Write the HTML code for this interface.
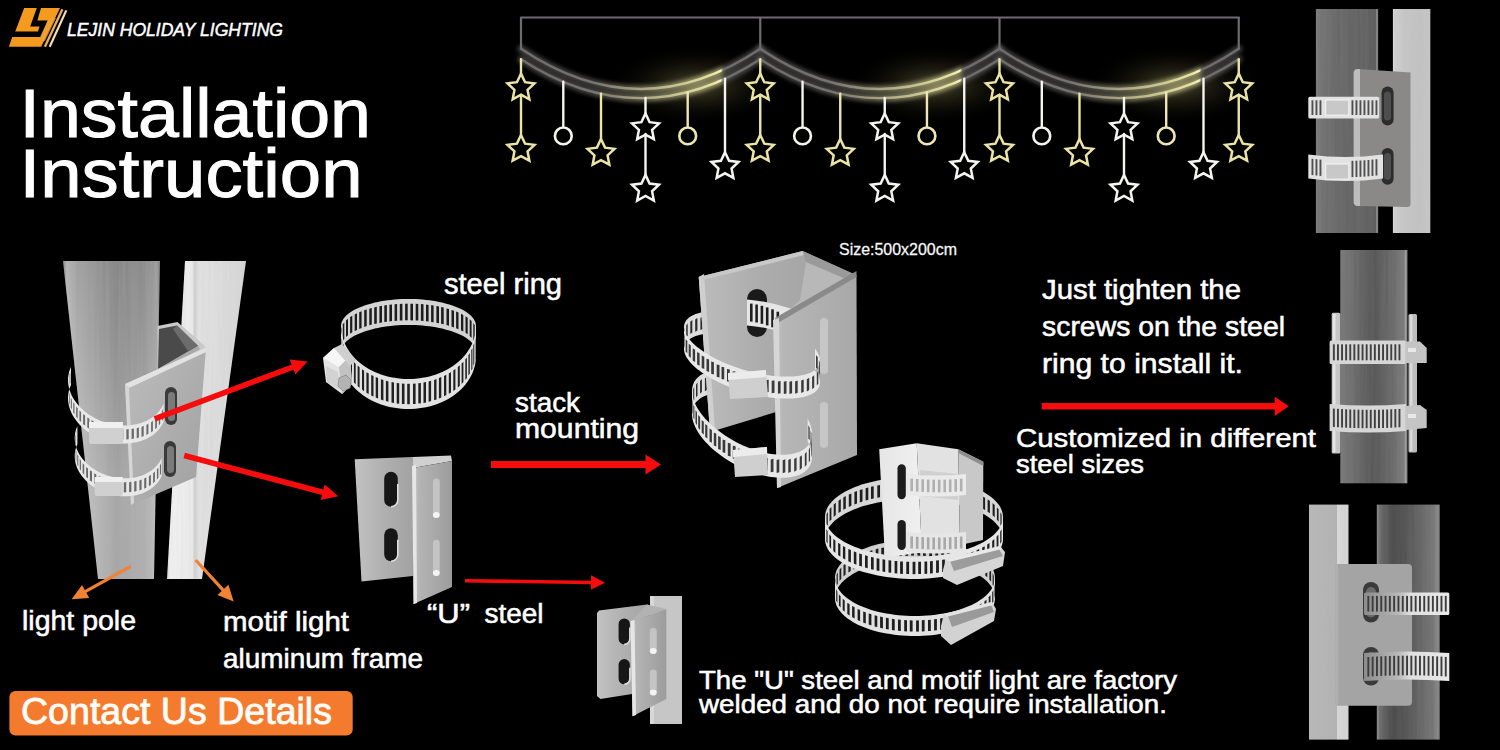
<!DOCTYPE html>
<html><head><meta charset="utf-8">
<style>
html,body{margin:0;padding:0;background:#000;width:1500px;height:750px;overflow:hidden}
svg{display:block}
text{font-family:"Liberation Sans",sans-serif;fill:#fff}
</style></head><body>
<svg width="1500" height="750" viewBox="0 0 1500 750">
<defs>
  <filter id="glow" x="-20%" y="-50%" width="140%" height="200%"><feGaussianBlur stdDeviation="2.5" result="b"/><feMerge><feMergeNode in="b"/><feMergeNode in="b"/><feMergeNode in="SourceGraphic"/></feMerge></filter>
</defs>

<rect width="1500" height="750" fill="#000"/>
<defs><polygon id="star" points="0.00,-14.20 4.06,-5.58 13.51,-4.39 6.56,2.13 8.35,11.49 0.00,6.90 -8.35,11.49 -6.56,2.13 -13.51,-4.39 -4.06,-5.58" fill="none" stroke-width="2.5" stroke-linejoin="miter"/>
<linearGradient id="gl0" gradientUnits="userSpaceOnUse" x1="521.0" y1="0" x2="760.25" y2="0"><stop offset="0" stop-color="#6e6c6c"/><stop offset="0.3" stop-color="#767470"/><stop offset="0.55" stop-color="#b4b088"/><stop offset="0.8" stop-color="#e8e4a4"/><stop offset="0.835" stop-color="#f8f4b8"/><stop offset="0.845" stop-color="#6e6c6c"/><stop offset="1" stop-color="#6e6c6c"/></linearGradient>
<radialGradient id="haze0" gradientUnits="userSpaceOnUse" cx="696.0" cy="85" r="90" gradientTransform="translate(696.0 85) scale(1 0.45) translate(-696.0 -85)"><stop offset="0" stop-color="#5a5634" stop-opacity="0.85"/><stop offset="1" stop-color="#000" stop-opacity="0"/></radialGradient>
<linearGradient id="gl1" gradientUnits="userSpaceOnUse" x1="760.25" y1="0" x2="999.5" y2="0"><stop offset="0" stop-color="#6e6c6c"/><stop offset="0.3" stop-color="#767470"/><stop offset="0.55" stop-color="#b4b088"/><stop offset="0.8" stop-color="#e8e4a4"/><stop offset="0.835" stop-color="#f8f4b8"/><stop offset="0.845" stop-color="#6e6c6c"/><stop offset="1" stop-color="#6e6c6c"/></linearGradient>
<radialGradient id="haze1" gradientUnits="userSpaceOnUse" cx="935.25" cy="85" r="90" gradientTransform="translate(935.25 85) scale(1 0.45) translate(-935.25 -85)"><stop offset="0" stop-color="#5a5634" stop-opacity="0.85"/><stop offset="1" stop-color="#000" stop-opacity="0"/></radialGradient>
<linearGradient id="gl2" gradientUnits="userSpaceOnUse" x1="999.5" y1="0" x2="1238.75" y2="0"><stop offset="0" stop-color="#6e6c6c"/><stop offset="0.3" stop-color="#767470"/><stop offset="0.55" stop-color="#b4b088"/><stop offset="0.8" stop-color="#e8e4a4"/><stop offset="0.835" stop-color="#f8f4b8"/><stop offset="0.845" stop-color="#6e6c6c"/><stop offset="1" stop-color="#6e6c6c"/></linearGradient>
<radialGradient id="haze2" gradientUnits="userSpaceOnUse" cx="1174.5" cy="85" r="90" gradientTransform="translate(1174.5 85) scale(1 0.45) translate(-1174.5 -85)"><stop offset="0" stop-color="#5a5634" stop-opacity="0.85"/><stop offset="1" stop-color="#000" stop-opacity="0"/></radialGradient>
<filter id="soft" x="-10%" y="-60%" width="120%" height="220%"><feGaussianBlur stdDeviation="2.2"/></filter></defs>
<g id="motif" fill="none" stroke-linecap="round">
<ellipse cx="686.0" cy="82" rx="95" ry="40" fill="url(#haze0)" stroke="none"/>
<ellipse cx="925.25" cy="82" rx="95" ry="40" fill="url(#haze1)" stroke="none"/>
<ellipse cx="1164.5" cy="82" rx="95" ry="40" fill="url(#haze2)" stroke="none"/>
<path d="M521,17.5 H1239 M521,17.5 V49 M760.25,17.5 V49 M999.5,17.5 V49 M1238.75,17.5 V49" stroke="#6e6a70" stroke-width="2.2"/>
<path d="M521.0,48.8 Q640.625,129.2 760.25,48.8 M521.0,59.2 Q640.625,137.0 760.25,59.2" stroke="url(#gl0)" stroke-width="7" opacity="0.6" filter="url(#soft)"/>
<path d="M521.0,48.8 Q640.625,129.2 760.25,48.8 M521.0,59.2 Q640.625,137.0 760.25,59.2" stroke="url(#gl0)" stroke-width="2.4"/>
<path d="M760.25,48.8 Q879.875,129.2 999.5,48.8 M760.25,59.2 Q879.875,137.0 999.5,59.2" stroke="url(#gl1)" stroke-width="7" opacity="0.6" filter="url(#soft)"/>
<path d="M760.25,48.8 Q879.875,129.2 999.5,48.8 M760.25,59.2 Q879.875,137.0 999.5,59.2" stroke="url(#gl1)" stroke-width="2.4"/>
<path d="M999.5,48.8 Q1119.125,129.2 1238.75,48.8 M999.5,59.2 Q1119.125,137.0 1238.75,59.2" stroke="url(#gl2)" stroke-width="7" opacity="0.6" filter="url(#soft)"/>
<path d="M999.5,48.8 Q1119.125,129.2 1238.75,48.8 M999.5,59.2 Q1119.125,137.0 1238.75,59.2" stroke="url(#gl2)" stroke-width="2.4"/>
<path d="M521.0,59.2 V73.5 M521.0,95 V134.5" stroke="#ebe4a6" stroke-width="2.4"/>
<use href="#star" x="521.0" y="87.8" stroke="#ebe4a6"/>
<use href="#star" x="521.0" y="149.2" stroke="#ebe4a6"/>
<path d="M760.25,59.2 V73.5 M760.25,95 V134.5" stroke="#ebe4a6" stroke-width="2.4"/>
<use href="#star" x="760.25" y="87.8" stroke="#ebe4a6"/>
<use href="#star" x="760.25" y="149.2" stroke="#ebe4a6"/>
<path d="M999.5,59.2 V73.5 M999.5,95 V134.5" stroke="#ebe4a6" stroke-width="2.4"/>
<use href="#star" x="999.5" y="87.8" stroke="#ebe4a6"/>
<use href="#star" x="999.5" y="149.2" stroke="#ebe4a6"/>
<path d="M1238.75,59.2 V73.5 M1238.75,95 V134.5" stroke="#ebe4a6" stroke-width="2.4"/>
<use href="#star" x="1238.75" y="87.8" stroke="#ebe4a6"/>
<use href="#star" x="1238.75" y="149.2" stroke="#ebe4a6"/>
<path d="M563.3,81.8 V126.4" stroke="#f4f4f0" stroke-width="2.4"/><circle cx="563.3" cy="135.9" r="8.4" stroke="#f4f4f0" stroke-width="2.6"/>
<path d="M601.0,93.8 V138.5" stroke="#ebe4a6" stroke-width="2.4"/><use href="#star" x="601.0" y="153.2" stroke="#ebe4a6"/>
<path d="M645.5,98.0 V113 M645.5,134 V174.5" stroke="#f4f4f0" stroke-width="2.4"/><use href="#star" x="645.5" y="127.7" stroke="#f4f4f0"/><use href="#star" x="645.5" y="189.1" stroke="#f4f4f0"/>
<path d="M687.7,92.1 V126.4" stroke="#eee6b4" stroke-width="2.4"/><circle cx="687.7" cy="135.9" r="8.4" stroke="#eee6b4" stroke-width="2.6"/>
<path d="M725.0,78.7 V152" stroke="#f4f4f0" stroke-width="2.4"/><use href="#star" x="725.0" y="166.4" stroke="#f4f4f0"/>
<path d="M802.55,81.8 V126.4" stroke="#f4f4f0" stroke-width="2.4"/><circle cx="802.55" cy="135.9" r="8.4" stroke="#f4f4f0" stroke-width="2.6"/>
<path d="M840.25,93.8 V138.5" stroke="#ebe4a6" stroke-width="2.4"/><use href="#star" x="840.25" y="153.2" stroke="#ebe4a6"/>
<path d="M884.75,98.0 V113 M884.75,134 V174.5" stroke="#f4f4f0" stroke-width="2.4"/><use href="#star" x="884.75" y="127.7" stroke="#f4f4f0"/><use href="#star" x="884.75" y="189.1" stroke="#f4f4f0"/>
<path d="M926.95,92.1 V126.4" stroke="#eee6b4" stroke-width="2.4"/><circle cx="926.95" cy="135.9" r="8.4" stroke="#eee6b4" stroke-width="2.6"/>
<path d="M964.25,78.7 V152" stroke="#f4f4f0" stroke-width="2.4"/><use href="#star" x="964.25" y="166.4" stroke="#f4f4f0"/>
<path d="M1041.8,81.8 V126.4" stroke="#f4f4f0" stroke-width="2.4"/><circle cx="1041.8" cy="135.9" r="8.4" stroke="#f4f4f0" stroke-width="2.6"/>
<path d="M1079.5,93.8 V138.5" stroke="#ebe4a6" stroke-width="2.4"/><use href="#star" x="1079.5" y="153.2" stroke="#ebe4a6"/>
<path d="M1124.0,98.0 V113 M1124.0,134 V174.5" stroke="#f4f4f0" stroke-width="2.4"/><use href="#star" x="1124.0" y="127.7" stroke="#f4f4f0"/><use href="#star" x="1124.0" y="189.1" stroke="#f4f4f0"/>
<path d="M1166.2,92.1 V126.4" stroke="#eee6b4" stroke-width="2.4"/><circle cx="1166.2" cy="135.9" r="8.4" stroke="#eee6b4" stroke-width="2.6"/>
<path d="M1203.5,78.7 V152" stroke="#f4f4f0" stroke-width="2.4"/><use href="#star" x="1203.5" y="166.4" stroke="#f4f4f0"/>
</g>
<defs>
  <linearGradient id="lpPole" x1="0" y1="0" x2="1" y2="0">
    <stop offset="0" stop-color="#a8a8a8"/><stop offset="0.04" stop-color="#e0e0e0"/><stop offset="0.15" stop-color="#c8c8c8"/>
    <stop offset="0.55" stop-color="#a6a6a6"/><stop offset="0.85" stop-color="#b0b0b0"/><stop offset="0.97" stop-color="#c0c0c0"/><stop offset="1" stop-color="#9a9a9a"/>
  </linearGradient>
  <linearGradient id="lpFrame" x1="0" y1="0" x2="1" y2="0">
    <stop offset="0" stop-color="#d8d8d8"/><stop offset="0.05" stop-color="#f2f2f2"/><stop offset="0.32" stop-color="#ececec"/>
    <stop offset="0.35" stop-color="#d0d0d0"/><stop offset="0.4" stop-color="#e2e2e2"/><stop offset="1" stop-color="#d6d6d6"/>
  </linearGradient>
  <linearGradient id="lpVshade" x1="0" y1="0" x2="0" y2="1">
    <stop offset="0" stop-color="#000" stop-opacity="0.2"/><stop offset="0.45" stop-color="#000" stop-opacity="0.08"/><stop offset="0.75" stop-color="#000" stop-opacity="0"/>
  </linearGradient>
  <linearGradient id="lpPlate" x1="0" y1="0" x2="1" y2="1">
    <stop offset="0" stop-color="#bdbdbd"/><stop offset="1" stop-color="#a0a0a0"/>
  </linearGradient>
  <filter id="brush" x="0" y="0" width="100%" height="100%">
    <feTurbulence type="fractalNoise" baseFrequency="0.35 0.008" numOctaves="2" seed="3" result="n"/>
    <feColorMatrix in="n" type="matrix" values="0 0 0 0 0.5  0 0 0 0 0.5  0 0 0 0 0.5  1.2 0 0 0 -0.35" result="g"/>
    <feComposite in="g" in2="SourceGraphic" operator="in"/>
  </filter>
</defs>
<g id="leftimg">
<polygon points="185,261 246,261 202,579 167,579" fill="url(#lpFrame)"/>
<polygon points="63,261 160,261 154,579 98,579" fill="url(#lpPole)"/>
<polygon points="63,261 160,261 154,579 98,579" fill="url(#lpVshade)"/>
<polygon points="185,261 246,261 202,579 167,579" fill="#000" filter="url(#brush)" opacity="0.25"/>
<polygon points="63,261 160,261 154,579 98,579" fill="#000" filter="url(#brush)" opacity="0.3"/>
<polygon points="157.5,326 177.4,322 205,346 204,352 157.5,376" fill="#c9c9c9"/>
<polygon points="159,329 177,325.5 198,346 158,369" fill="#4a4a4a"/>
<polygon points="177,325.5 198,346 188,351 173,329" fill="#6c6c6c"/>
<polygon points="158,369 198,346 200,349 156,373" fill="#a8a8a8"/>
<polygon points="125,384 206,347.5 196,477 131,505" fill="url(#lpPlate)"/>
<polygon points="125,384 206,347.5 206,352 129,388" fill="#e2e2e2"/>
<polygon points="125,384 129,388 134,503 131,505" fill="#d6d6d6"/>
<rect x="165" y="387" width="12" height="38" rx="6" fill="#3a3a3a"/><rect x="168" y="392" width="7" height="29" rx="3.5" fill="#7a7a7a"/>
<rect x="164" y="441" width="12" height="36" rx="6" fill="#3a3a3a"/><rect x="167" y="446" width="7" height="27" rx="3.5" fill="#7a7a7a"/>
<polygon points="163.6,403.8 162.7,405.6 161.7,407.4 160.6,409.1 159.4,410.8 158.0,412.4 156.5,413.9 155.0,415.3 153.3,416.7 151.5,417.9 149.6,419.1 147.6,420.2 145.5,421.2 143.4,422.1 141.2,422.9 138.9,423.6 136.5,424.2 134.1,424.6 131.7,425.0 129.2,425.3 126.6,425.4 124.1,425.5 121.5,425.4 118.9,425.2 116.3,424.9 113.7,424.5 111.1,424.0 108.6,423.4 106.0,422.7 103.5,421.8 101.0,420.9 98.6,419.9 96.2,418.8 93.9,417.6 91.7,416.3 89.5,414.9 87.4,413.4 85.4,411.9 83.4,410.3 81.6,408.6 79.8,406.9 78.2,405.1 76.7,403.2 75.3,401.3 74.0,399.4 72.8,397.4 71.7,395.4 70.8,393.3 70.0,391.3 69.3,389.2 68.8,387.1 68.4,385.0 68.1,382.9 68.0,380.8 68.0,378.8 68.2,376.7 68.5,374.7 68.9,372.7 69.4,370.8 70.1,368.9 71.0,367.0 71.0,385.0 70.1,386.9 69.4,388.8 68.9,390.7 68.5,392.7 68.2,394.7 68.0,396.8 68.0,398.8 68.1,400.9 68.4,403.0 68.8,405.1 69.3,407.2 70.0,409.3 70.8,411.3 71.7,413.4 72.8,415.4 74.0,417.4 75.3,419.3 76.7,421.2 78.2,423.1 79.8,424.9 81.6,426.6 83.4,428.3 85.4,429.9 87.4,431.4 89.5,432.9 91.7,434.3 93.9,435.6 96.2,436.8 98.6,437.9 101.0,438.9 103.5,439.8 106.0,440.7 108.6,441.4 111.1,442.0 113.7,442.5 116.3,442.9 118.9,443.2 121.5,443.4 124.1,443.5 126.6,443.4 129.2,443.3 131.7,443.0 134.1,442.6 136.5,442.2 138.9,441.6 141.2,440.9 143.4,440.1 145.5,439.2 147.6,438.2 149.6,437.1 151.5,435.9 153.3,434.7 155.0,433.3 156.5,431.9 158.0,430.4 159.4,428.8 160.6,427.1 161.7,425.4 162.7,423.6 163.6,421.8" fill="#e8e8e8"/>
<polygon points="161.9,411.3 162.9,409.1 162.9,419.2 161.9,421.3" fill="#6a6a6a"/>
<polygon points="158.8,415.5 160.2,413.6 160.2,423.7 158.8,425.6" fill="#6a6a6a"/>
<polygon points="155.2,419.1 156.9,417.4 156.9,427.5 155.2,429.2" fill="#6a6a6a"/>
<polygon points="151.1,422.3 152.9,420.8 152.9,430.9 151.1,432.4" fill="#6a6a6a"/>
<polygon points="146.4,424.9 148.4,423.6 148.4,433.7 146.4,435.0" fill="#6a6a6a"/>
<polygon points="141.5,426.9 143.7,425.8 143.7,435.9 141.5,437.0" fill="#6a6a6a"/>
<polygon points="136.7,428.2 138.9,427.4 138.9,437.5 136.7,438.3" fill="#6a6a6a"/>
<polygon points="131.6,429.1 133.9,428.5 133.9,438.6 131.6,439.2" fill="#6a6a6a"/>
<polygon points="126.3,429.5 128.7,429.1 128.7,439.2 126.3,439.6" fill="#6a6a6a"/>
<polygon points="120.9,429.5 123.3,429.3 123.3,439.4 120.9,439.6" fill="#6a6a6a"/>
<polygon points="115.9,429.0 118.3,429.0 118.3,439.0 115.9,439.1" fill="#6a6a6a"/>
<polygon points="110.8,428.1 113.2,428.2 113.2,438.3 110.8,438.1" fill="#6a6a6a"/>
<polygon points="105.9,426.7 108.2,427.1 108.2,437.2 105.9,436.8" fill="#6a6a6a"/>
<polygon points="100.6,424.9 102.9,425.5 102.9,435.6 100.6,434.9" fill="#6a6a6a"/>
<polygon points="95.9,422.7 98.2,423.5 98.2,433.6 95.9,432.8" fill="#6a6a6a"/>
<polygon points="91.5,420.3 93.7,421.3 93.7,431.3 91.5,430.3" fill="#6a6a6a"/>
<polygon points="87.3,417.5 89.4,418.7 89.4,428.7 87.3,427.5" fill="#6a6a6a"/>
<polygon points="83.1,414.1 85.1,415.5 85.1,425.6 83.1,424.2" fill="#6a6a6a"/>
<polygon points="79.4,410.5 81.1,412.1 81.1,422.1 79.4,420.5" fill="#6a6a6a"/>
<polygon points="76.1,406.5 77.7,408.3 77.7,418.4 76.1,416.6" fill="#6a6a6a"/>
<polygon points="73.2,402.1 74.5,404.1 74.5,414.2 73.2,412.2" fill="#6a6a6a"/>
<polygon points="70.8,397.5 71.9,399.7 71.9,409.8 70.8,407.6" fill="#6a6a6a"/>
<polygon points="69.1,392.5 69.8,394.8 69.8,404.9 69.1,402.6" fill="#6a6a6a"/>
<polygon points="69.6,374.3 70.4,372.1 70.4,382.2 69.6,384.4" fill="#6a6a6a"/>
<rect x="89" y="422" width="34" height="22" rx="2" fill="#d0d0d0"/><rect x="89" y="422" width="34" height="6" fill="#f0f0f0"/>
<polygon points="161.7,457.9 160.9,459.6 160.0,461.2 159.0,462.8 157.9,464.3 156.6,465.8 155.3,467.2 153.8,468.6 152.3,469.8 150.7,471.0 148.9,472.1 147.1,473.1 145.3,474.1 143.3,474.9 141.3,475.7 139.2,476.3 137.1,476.9 134.9,477.4 132.6,477.8 130.4,478.0 128.1,478.2 125.7,478.3 123.4,478.3 121.0,478.2 118.7,477.9 116.3,477.6 114.0,477.2 111.6,476.7 109.3,476.1 107.0,475.4 104.8,474.6 102.6,473.7 100.4,472.7 98.3,471.7 96.2,470.5 94.3,469.3 92.3,468.0 90.5,466.7 88.7,465.2 87.1,463.7 85.5,462.2 84.0,460.6 82.6,458.9 81.3,457.2 80.1,455.5 79.0,453.7 78.1,451.9 77.2,450.0 76.5,448.2 75.9,446.3 75.4,444.4 75.1,442.5 74.8,440.6 74.7,438.8 74.7,436.9 74.9,435.0 75.1,433.2 75.5,431.4 76.0,429.6 76.6,427.9 77.4,426.2 77.4,444.2 76.6,445.9 76.0,447.6 75.5,449.4 75.1,451.2 74.9,453.0 74.7,454.9 74.7,456.8 74.8,458.6 75.1,460.5 75.4,462.4 75.9,464.3 76.5,466.2 77.2,468.0 78.1,469.9 79.0,471.7 80.1,473.5 81.3,475.2 82.6,476.9 84.0,478.6 85.5,480.2 87.1,481.7 88.7,483.2 90.5,484.7 92.3,486.0 94.3,487.3 96.2,488.5 98.3,489.7 100.4,490.7 102.6,491.7 104.8,492.6 107.0,493.4 109.3,494.1 111.6,494.7 114.0,495.2 116.3,495.6 118.7,495.9 121.0,496.2 123.4,496.3 125.7,496.3 128.1,496.2 130.4,496.0 132.6,495.8 134.9,495.4 137.1,494.9 139.2,494.3 141.3,493.7 143.3,492.9 145.3,492.1 147.1,491.1 148.9,490.1 150.7,489.0 152.3,487.8 153.8,486.6 155.3,485.2 156.6,483.8 157.9,482.3 159.0,480.8 160.0,479.2 160.9,477.6 161.7,475.9" fill="#e8e8e8"/>
<polygon points="159.9,465.4 161.0,463.3 161.0,473.4 159.9,475.5" fill="#6a6a6a"/>
<polygon points="156.9,469.6 158.4,467.6 158.4,477.7 156.9,479.6" fill="#6a6a6a"/>
<polygon points="153.1,473.2 154.9,471.5 154.9,481.6 153.1,483.3" fill="#6a6a6a"/>
<polygon points="148.9,476.2 150.9,474.7 150.9,484.8 148.9,486.3" fill="#6a6a6a"/>
<polygon points="144.2,478.6 146.3,477.4 146.3,487.5 144.2,488.7" fill="#6a6a6a"/>
<polygon points="139.4,480.4 141.6,479.4 141.6,489.5 139.4,490.5" fill="#6a6a6a"/>
<polygon points="134.2,481.6 136.5,480.9 136.5,491.0 134.2,491.7" fill="#6a6a6a"/>
<polygon points="129.1,482.2 131.4,481.8 131.4,491.8 129.1,492.3" fill="#6a6a6a"/>
<polygon points="123.8,482.4 126.2,482.1 126.2,492.2 123.8,492.5" fill="#6a6a6a"/>
<polygon points="118.5,482.0 120.9,482.0 120.9,492.1 118.5,492.1" fill="#6a6a6a"/>
<polygon points="113.6,481.2 116.0,481.4 116.0,491.5 113.6,491.3" fill="#6a6a6a"/>
<polygon points="108.4,479.9 110.7,480.3 110.7,490.4 108.4,490.0" fill="#6a6a6a"/>
<polygon points="103.6,478.2 105.9,478.9 105.9,488.9 103.6,488.3" fill="#6a6a6a"/>
<polygon points="98.8,476.0 101.0,476.9 101.0,486.9 98.8,486.1" fill="#6a6a6a"/>
<polygon points="94.2,473.3 96.3,474.4 96.3,484.5 94.2,483.4" fill="#6a6a6a"/>
<polygon points="89.9,470.3 92.0,471.6 92.0,481.7 89.9,480.4" fill="#6a6a6a"/>
<polygon points="86.1,466.9 88.0,468.5 88.0,478.5 86.1,477.0" fill="#6a6a6a"/>
<polygon points="82.6,463.0 84.2,464.8 84.2,474.8 82.6,473.1" fill="#6a6a6a"/>
<polygon points="79.7,458.8 81.0,460.8 81.0,470.8 79.7,468.9" fill="#6a6a6a"/>
<polygon points="77.2,454.1 78.3,456.3 78.3,466.4 77.2,464.2" fill="#6a6a6a"/>
<polygon points="75.6,449.3 76.3,451.6 76.3,461.7 75.6,459.4" fill="#6a6a6a"/>
<polygon points="75.3,436.2 75.9,433.9 75.9,444.0 75.3,446.3" fill="#6a6a6a"/>
<polygon points="76.9,431.2 77.9,429.0 77.9,439.1 76.9,441.3" fill="#6a6a6a"/>
<rect x="94.7" y="477" width="28" height="19" rx="2" fill="#d0d0d0"/><rect x="94.7" y="477" width="28" height="5" fill="#f0f0f0"/>
</g>
<g id="ring">
<polygon points="341.0,326.0 341.1,324.6 341.4,323.2 341.8,321.8 342.5,320.4 343.3,319.0 344.3,317.7 345.5,316.3 346.8,315.0 348.4,313.7 350.0,312.5 351.9,311.3 353.9,310.1 356.0,309.0 358.3,307.9 360.8,306.9 363.3,305.9 366.0,305.0 368.8,304.2 371.7,303.4 374.8,302.6 377.9,301.9 381.0,301.3 384.3,300.8 387.6,300.3 391.0,299.9 394.5,299.6 397.9,299.3 401.4,299.1 405.0,299.0 408.5,299.0 412.0,299.0 415.6,299.1 419.1,299.3 422.5,299.6 426.0,299.9 429.4,300.3 432.7,300.8 436.0,301.3 439.1,301.9 442.2,302.6 445.3,303.4 448.2,304.2 451.0,305.0 453.7,305.9 456.2,306.9 458.7,307.9 461.0,309.0 463.1,310.1 465.1,311.3 467.0,312.5 468.6,313.7 470.2,315.0 471.5,316.3 472.7,317.7 473.7,319.0 474.5,320.4 475.2,321.8 475.6,323.2 475.9,324.6 476.0,326.0 476.0,352.0 475.9,350.6 475.6,349.2 475.2,347.8 474.5,346.4 473.7,345.0 472.7,343.7 471.5,342.3 470.2,341.0 468.6,339.7 467.0,338.5 465.1,337.3 463.1,336.1 461.0,335.0 458.7,333.9 456.2,332.9 453.7,331.9 451.0,331.0 448.2,330.2 445.3,329.4 442.2,328.6 439.1,327.9 436.0,327.3 432.7,326.8 429.4,326.3 426.0,325.9 422.5,325.6 419.1,325.3 415.6,325.1 412.0,325.0 408.5,325.0 405.0,325.0 401.4,325.1 397.9,325.3 394.5,325.6 391.0,325.9 387.6,326.3 384.3,326.8 381.0,327.3 377.9,327.9 374.8,328.6 371.7,329.4 368.8,330.2 366.0,331.0 363.3,331.9 360.8,332.9 358.3,333.9 356.0,335.0 353.9,336.1 351.9,337.3 350.0,338.5 348.4,339.7 346.8,341.0 345.5,342.3 344.3,343.7 343.3,345.0 342.5,346.4 341.8,347.8 341.4,349.2 341.1,350.6 341.0,352.0" fill="#d4d4d4"/>
<polygon points="341.0,329.2 341.7,326.7 341.7,343.3 341.0,345.8" fill="#1c1c1c"/>
<polygon points="342.8,324.4 344.3,322.3 344.3,338.9 342.8,341.1" fill="#1c1c1c"/>
<polygon points="346.0,320.4 348.0,318.7 348.0,335.3 346.0,337.1" fill="#1c1c1c"/>
<polygon points="350.1,317.1 352.3,315.7 352.3,332.3 350.1,333.7" fill="#1c1c1c"/>
<polygon points="354.7,314.4 357.0,313.2 357.0,329.9 354.7,331.0" fill="#1c1c1c"/>
<polygon points="359.2,312.2 361.6,311.2 361.6,327.9 359.2,328.9" fill="#1c1c1c"/>
<polygon points="364.2,310.3 366.7,309.5 366.7,326.1 364.2,326.9" fill="#1c1c1c"/>
<polygon points="369.3,308.7 371.8,308.0 371.8,324.6 369.3,325.3" fill="#1c1c1c"/>
<polygon points="374.2,307.4 376.8,306.8 376.8,323.5 374.2,324.0" fill="#1c1c1c"/>
<polygon points="379.4,306.3 382.0,305.8 382.0,322.5 379.4,322.9" fill="#1c1c1c"/>
<polygon points="384.3,305.5 386.9,305.1 386.9,321.7 384.3,322.1" fill="#1c1c1c"/>
<polygon points="389.4,304.8 392.0,304.5 392.0,321.1 389.4,321.4" fill="#1c1c1c"/>
<polygon points="394.6,304.3 397.1,304.1 397.1,320.7 394.6,320.9" fill="#1c1c1c"/>
<polygon points="399.8,303.9 402.4,303.8 402.4,320.4 399.8,320.5" fill="#1c1c1c"/>
<polygon points="405.1,303.7 407.7,303.7 407.7,320.3 405.1,320.3" fill="#1c1c1c"/>
<polygon points="410.4,303.7 413.0,303.7 413.0,320.4 410.4,320.3" fill="#1c1c1c"/>
<polygon points="415.7,303.8 418.3,304.0 418.3,320.6 415.7,320.5" fill="#1c1c1c"/>
<polygon points="420.9,304.1 423.5,304.3 423.5,321.0 420.9,320.8" fill="#1c1c1c"/>
<polygon points="426.0,304.6 428.6,304.9 428.6,321.5 426.0,321.2" fill="#1c1c1c"/>
<polygon points="431.1,305.2 433.6,305.6 433.6,322.3 431.1,321.9" fill="#1c1c1c"/>
<polygon points="436.4,306.1 439.0,306.6 439.0,323.2 436.4,322.7" fill="#1c1c1c"/>
<polygon points="441.1,307.0 443.7,307.6 443.7,324.3 441.1,323.7" fill="#1c1c1c"/>
<polygon points="446.5,308.4 449.0,309.1 449.0,325.7 446.5,325.0" fill="#1c1c1c"/>
<polygon points="451.5,309.9 454.0,310.7 454.0,327.4 451.5,326.5" fill="#1c1c1c"/>
<polygon points="456.1,311.5 458.5,312.5 458.5,329.2 456.1,328.2" fill="#1c1c1c"/>
<polygon points="461.0,313.7 463.3,314.9 463.3,331.5 461.0,330.3" fill="#1c1c1c"/>
<polygon points="465.5,316.2 467.7,317.7 467.7,334.3 465.5,332.8" fill="#1c1c1c"/>
<polygon points="469.7,319.3 471.6,321.0 471.6,337.7 469.7,335.9" fill="#1c1c1c"/>
<polygon points="473.3,323.1 474.7,325.3 474.7,341.9 473.3,339.7" fill="#1c1c1c"/>
<polygon points="476.0,326.0 475.9,328.8 475.6,331.5 475.2,334.3 474.5,337.0 473.7,339.7 472.7,342.4 471.5,345.0 470.2,347.6 468.6,350.1 467.0,352.5 465.1,354.9 463.1,357.2 461.0,359.4 458.7,361.5 456.2,363.5 453.7,365.4 451.0,367.2 448.2,368.9 445.3,370.4 442.2,371.9 439.1,373.2 436.0,374.4 432.7,375.5 429.4,376.4 426.0,377.2 422.5,377.8 419.1,378.3 415.6,378.7 412.0,378.9 408.5,379.0 405.0,378.9 401.4,378.7 397.9,378.3 394.5,377.8 391.0,377.2 387.6,376.4 384.3,375.5 381.0,374.4 377.9,373.2 374.8,371.9 371.7,370.4 368.8,368.9 366.0,367.2 363.3,365.4 360.8,363.5 358.3,361.5 356.0,359.4 353.9,357.2 351.9,354.9 350.0,352.5 348.4,350.1 346.8,347.6 345.5,345.0 344.3,342.4 343.3,339.7 342.5,337.0 341.8,334.3 341.4,331.5 341.1,328.8 341.0,326.0 341.0,356.0 341.1,358.8 341.4,361.5 341.8,364.3 342.5,367.0 343.3,369.7 344.3,372.4 345.5,375.0 346.8,377.6 348.4,380.1 350.0,382.5 351.9,384.9 353.9,387.2 356.0,389.4 358.3,391.5 360.8,393.5 363.3,395.4 366.0,397.2 368.8,398.9 371.7,400.4 374.8,401.9 377.9,403.2 381.0,404.4 384.3,405.5 387.6,406.4 391.0,407.2 394.5,407.8 397.9,408.3 401.4,408.7 405.0,408.9 408.5,409.0 412.0,408.9 415.6,408.7 419.1,408.3 422.5,407.8 426.0,407.2 429.4,406.4 432.7,405.5 436.0,404.4 439.1,403.2 442.2,401.9 445.3,400.4 448.2,398.9 451.0,397.2 453.7,395.4 456.2,393.5 458.7,391.5 461.0,389.4 463.1,387.2 465.1,384.9 467.0,382.5 468.6,380.1 470.2,377.6 471.5,375.0 472.7,372.4 473.7,369.7 474.5,367.0 475.2,364.3 475.6,361.5 475.9,358.8 476.0,356.0" fill="#e2e2e2"/>
<polygon points="474.9,340.4 475.4,337.8 475.4,358.2 474.9,360.8" fill="#202020"/>
<polygon points="473.3,345.6 474.2,343.2 474.2,363.6 473.3,366.0" fill="#202020"/>
<polygon points="471.3,350.3 472.4,348.0 472.4,368.4 471.3,370.7" fill="#202020"/>
<polygon points="468.4,355.2 469.8,353.0 469.8,373.4 468.4,375.6" fill="#202020"/>
<polygon points="465.3,359.5 466.9,357.5 466.9,377.9 465.3,379.9" fill="#202020"/>
<polygon points="461.6,363.6 463.4,361.7 463.4,382.1 461.6,384.0" fill="#202020"/>
<polygon points="457.8,367.0 459.8,365.3 459.8,385.7 457.8,387.4" fill="#202020"/>
<polygon points="453.3,370.5 455.4,369.0 455.4,389.4 453.3,390.9" fill="#202020"/>
<polygon points="448.8,373.4 451.0,372.0 451.0,392.4 448.8,393.8" fill="#202020"/>
<polygon points="444.0,375.9 446.3,374.7 446.3,395.1 444.0,396.3" fill="#202020"/>
<polygon points="438.9,378.1 441.3,377.1 441.3,397.5 438.9,398.5" fill="#202020"/>
<polygon points="434.1,379.9 436.5,379.0 436.5,399.4 434.1,400.3" fill="#202020"/>
<polygon points="428.6,381.4 431.1,380.7 431.1,401.1 428.6,401.8" fill="#202020"/>
<polygon points="423.5,382.5 426.0,382.0 426.0,402.4 423.5,402.9" fill="#202020"/>
<polygon points="418.3,383.2 420.9,382.9 420.9,403.3 418.3,403.6" fill="#202020"/>
<polygon points="413.0,383.7 415.6,383.5 415.6,403.9 413.0,404.1" fill="#202020"/>
<polygon points="407.2,383.8 409.8,383.8 409.8,404.2 407.2,404.2" fill="#202020"/>
<polygon points="401.9,383.6 404.5,383.7 404.5,404.1 401.9,404.0" fill="#202020"/>
<polygon points="396.7,383.0 399.2,383.3 399.2,403.7 396.7,403.4" fill="#202020"/>
<polygon points="391.5,382.1 394.0,382.6 394.0,403.0 391.5,402.5" fill="#202020"/>
<polygon points="385.9,380.7 388.4,381.4 388.4,401.8 385.9,401.1" fill="#202020"/>
<polygon points="380.9,379.2 383.4,380.0 383.4,400.4 380.9,399.6" fill="#202020"/>
<polygon points="375.7,377.1 378.1,378.1 378.1,398.5 375.7,397.5" fill="#202020"/>
<polygon points="371.2,375.0 373.5,376.1 373.5,396.5 371.2,395.4" fill="#202020"/>
<polygon points="366.4,372.3 368.7,373.6 368.7,394.0 366.4,392.7" fill="#202020"/>
<polygon points="362.0,369.2 364.1,370.8 364.1,391.2 362.0,389.6" fill="#202020"/>
<polygon points="357.6,365.6 359.6,367.3 359.6,387.7 357.6,386.0" fill="#202020"/>
<polygon points="353.9,362.0 355.7,363.9 355.7,384.3 353.9,382.4" fill="#202020"/>
<polygon points="350.4,357.8 352.0,359.9 352.0,380.3 350.4,378.2" fill="#202020"/>
<polygon points="347.4,353.4 348.8,355.6 348.8,376.0 347.4,373.8" fill="#202020"/>
<polygon points="345.0,348.8 346.1,351.1 346.1,371.5 345.0,369.2" fill="#202020"/>
<polygon points="343.0,343.6 343.8,346.0 343.8,366.4 343.0,364.0" fill="#202020"/>
<polygon points="341.6,338.2 342.2,340.8 342.2,361.2 341.6,358.6" fill="#202020"/>
<polygon points="323,358 334,348 350,356 352,384 342,394 326,382" fill="#e4e4e4"/>
<polygon points="323,358 334,348 350,356 339,367" fill="#f6f6f6"/>
<polygon points="339,367 350,356 352,384 342,394" fill="#c2c2c2"/>
<polygon points="326,366 338,372 340,390 327,382" fill="#d2d2d2"/>
<polygon points="339,378 346,375 351,380 350,388 343,391 338,386" fill="#b4b4b4" stroke="#8a8a8a" stroke-width="0.8"/>
<polygon points="334,348 342,344 356,360 350,366" fill="#cfcfcf"/>
</g>
<defs>
 <linearGradient id="usPl" x1="0" y1="0" x2="1" y2="0"><stop offset="0" stop-color="#c2c2c2"/><stop offset="0.5" stop-color="#b0b0b0"/><stop offset="1" stop-color="#a2a2a2"/></linearGradient>
 <linearGradient id="usFl" x1="0" y1="0" x2="1" y2="0"><stop offset="0" stop-color="#c8c8c8"/><stop offset="0.15" stop-color="#b4b4b4"/><stop offset="1" stop-color="#9c9c9c"/></linearGradient>
</defs>
<g id="us1">
<polygon points="354.7,459.3 413,457 413,576 361.5,581.6" fill="url(#usPl)"/>
<polygon points="413,457 451,455.4 452,461 413,468" fill="#d0d0d0"/>
<polygon points="413,468 452,461 452,587 413.6,604" fill="url(#usFl)"/>
<polygon points="412,466 416,465 417,603 413.6,604" fill="#e6e6e6"/>
<rect x="384.2" y="471.7" width="13.6" height="35.1" rx="6.8" fill="#161616"/>
<path d="M397.8,483.985 V500.0 A6.8,6.8 0 0 1 391.0,506.8" stroke="#e0e0e0" stroke-width="1.6" fill="none"/>
<rect x="384.2" y="528.3" width="13.6" height="32.9" rx="6.8" fill="#161616"/>
<path d="M397.8,539.8149999999999 V554.4 A6.8,6.8 0 0 1 391.0,561.1999999999999" stroke="#e0e0e0" stroke-width="1.6" fill="none"/>
<rect x="432.9" y="478.5" width="6.8" height="39.5" rx="3.4" fill="#c4c4c4"/>
<ellipse cx="436.29999999999995" cy="515.0" rx="3.4" ry="3" fill="#f4f4f4"/>
<rect x="432.9" y="539.7" width="6.8" height="36.3" rx="3.4" fill="#c4c4c4"/>
<ellipse cx="436.29999999999995" cy="573.0" rx="3.4" ry="3" fill="#f4f4f4"/>
</g>
<defs>
 <linearGradient id="buBack" x1="0" y1="0" x2="1" y2="0"><stop offset="0" stop-color="#bcbcbc"/><stop offset="0.4" stop-color="#acacac"/><stop offset="1" stop-color="#a0a0a0"/></linearGradient>
 <linearGradient id="buFl" x1="0" y1="0" x2="1" y2="0"><stop offset="0" stop-color="#c4c4c4"/><stop offset="0.1" stop-color="#b6b6b6"/><stop offset="1" stop-color="#a8a8a8"/></linearGradient>
 <linearGradient id="u2Pl" x1="0" y1="0" x2="1" y2="0"><stop offset="0" stop-color="#e6e6e6"/><stop offset="1" stop-color="#f0f0f0"/></linearGradient>
</defs>
<g id="bigu">
<clipPath id="cpLeftOut"><rect x="670" y="250" width="40" height="250"/></clipPath>
<g clip-path="url(#cpLeftOut)">
<polygon points="684.0,327.0 684.1,325.5 684.4,324.1 684.9,322.7 685.6,321.4 686.4,320.1 687.5,318.9 688.7,317.8 690.2,316.8 691.8,315.8 693.6,314.9 695.5,314.1 697.6,313.4 699.9,312.8 702.3,312.3 704.9,311.8 707.6,311.5 710.4,311.2 713.4,311.0 716.4,311.0 719.6,311.0 722.8,311.1 726.2,311.3 729.6,311.6 733.1,312.0 736.6,312.5 740.2,313.1 740.2,335.1 736.6,334.5 733.1,334.0 729.6,333.6 726.2,333.3 722.8,333.1 719.6,333.0 716.4,333.0 713.4,333.0 710.4,333.2 707.6,333.5 704.9,333.8 702.3,334.3 699.9,334.8 697.6,335.4 695.5,336.1 693.6,336.9 691.8,337.8 690.2,338.8 688.7,339.8 687.5,340.9 686.4,342.1 685.6,343.4 684.9,344.7 684.4,346.1 684.1,347.5 684.0,349.0" fill="#dedede"/>
<polygon points="684.0,330.3 684.7,327.8 684.7,340.1 684.0,342.7" fill="#2a2a2a"/>
<polygon points="686.2,325.4 687.7,323.3 687.7,335.6 686.2,337.7" fill="#2a2a2a"/>
<polygon points="690.3,321.8 692.3,320.1 692.3,332.4 690.3,334.1" fill="#2a2a2a"/>
<polygon points="695.2,319.4 697.4,318.0 697.4,330.4 695.2,331.7" fill="#2a2a2a"/>
<polygon points="700.4,317.8 702.8,316.7 702.8,329.0 700.4,330.1" fill="#2a2a2a"/>
<polygon points="705.8,316.8 708.3,315.9 708.3,328.3 705.8,329.1" fill="#2a2a2a"/>
<polygon points="711.4,316.3 713.9,315.6 713.9,327.9 711.4,328.6" fill="#2a2a2a"/>
<polygon points="716.7,316.1 719.3,315.5 719.3,327.8 716.7,328.4" fill="#2a2a2a"/>
<polygon points="722.4,316.2 725.0,315.8 725.0,328.1 722.4,328.6" fill="#2a2a2a"/>
<polygon points="727.7,316.6 730.3,316.2 730.3,328.5 727.7,328.9" fill="#2a2a2a"/>
<polygon points="733.3,317.2 735.9,316.9 735.9,329.3 733.3,329.5" fill="#2a2a2a"/>
<polygon points="738.7,318.0 741.3,317.8 741.3,330.1 738.7,330.3" fill="#2a2a2a"/>
<polygon points="692.0,391.0 692.1,389.1 692.3,387.2 692.8,385.4 693.4,383.7 694.1,382.1 695.1,380.5 696.2,379.1 697.5,377.7 698.9,376.4 700.4,375.3 702.2,374.2 704.0,373.3 706.0,372.5 708.2,371.8 710.4,371.2 712.8,370.7 715.3,370.4 717.9,370.1 720.6,370.0 723.4,370.0 726.3,370.2 729.2,370.4 732.2,370.8 735.3,371.3 738.4,371.9 741.6,372.6 741.6,395.6 738.4,394.9 735.3,394.3 732.2,393.8 729.2,393.4 726.3,393.2 723.4,393.0 720.6,393.0 717.9,393.1 715.3,393.4 712.8,393.7 710.4,394.2 708.2,394.8 706.0,395.5 704.0,396.3 702.2,397.2 700.4,398.3 698.9,399.4 697.5,400.7 696.2,402.1 695.1,403.5 694.1,405.1 693.4,406.7 692.8,408.4 692.3,410.2 692.1,412.1 692.0,414.0" fill="#dedede"/>
<polygon points="693.2,389.2 694.2,386.7 694.2,399.6 693.2,402.0" fill="#2a2a2a"/>
<polygon points="696.0,384.5 697.5,382.4 697.5,395.3 696.0,397.4" fill="#2a2a2a"/>
<polygon points="700.1,380.9 701.9,379.1 701.9,392.0 700.1,393.8" fill="#2a2a2a"/>
<polygon points="704.9,378.4 707.0,376.8 707.0,389.7 704.9,391.2" fill="#2a2a2a"/>
<polygon points="710.1,376.7 712.4,375.4 712.4,388.3 710.1,389.6" fill="#2a2a2a"/>
<polygon points="715.5,375.8 717.9,374.7 717.9,387.6 715.5,388.7" fill="#2a2a2a"/>
<polygon points="721.0,375.5 723.4,374.6 723.4,387.5 721.0,388.4" fill="#2a2a2a"/>
<polygon points="726.5,375.7 729.0,375.0 729.0,387.9 726.5,388.6" fill="#2a2a2a"/>
<polygon points="731.8,376.2 734.3,375.7 734.3,388.6 731.8,389.1" fill="#2a2a2a"/>
<polygon points="737.2,377.2 739.8,376.8 739.8,389.7 737.2,390.0" fill="#2a2a2a"/>
</g>
<polygon points="698.7,277 802.7,251 856.5,275.3 776,322 776,412 710,432" fill="url(#buBack)"/>
<polygon points="698.7,277 704,274 715,430 710,432" fill="#cfcfcf"/>
<polygon points="698.7,277 802.7,251 804,255 703,280" fill="#c8c8c8"/>
<polygon points="802.7,251 856.5,275.3 848,280 806,262" fill="#9a9a9a"/>
<polygon points="806,262 848,280 780,318 800,300" fill="#b8b8b8"/>
<rect x="747" y="289" width="20" height="48" rx="10" fill="#1a1a1a"/>
<clipPath id="cpSlot1"><rect x="747" y="289" width="20" height="48" rx="10"/><rect x="757" y="280" width="40" height="70"/></clipPath>
<g clip-path="url(#cpSlot1)"><path d="M740,299 Q765,300 792,309 L792,335 Q765,326 740,325 Z" fill="#e6e6e6"/>
<rect x="750.0" y="303.6" width="2.6" height="18" fill="#1e1e1e"/>
<rect x="755.3" y="304.5" width="2.6" height="18" fill="#1e1e1e"/>
<rect x="760.6" y="305.8" width="2.6" height="18" fill="#1e1e1e"/>
<rect x="765.9" y="307.4" width="2.6" height="18" fill="#1e1e1e"/>
<rect x="771.2" y="309.3" width="2.6" height="18" fill="#1e1e1e"/>
<rect x="776.5" y="311.7" width="2.6" height="18" fill="#1e1e1e"/>
<rect x="781.8" y="314.4" width="2.6" height="18" fill="#1e1e1e"/>
<rect x="787.1" y="317.4" width="2.6" height="18" fill="#1e1e1e"/>
</g>
<polygon points="775,322 856.5,275.3 857,455 777,488" fill="url(#buFl)"/>
<polygon points="775,318 856.5,271 856.5,277 776,324" fill="#8a8a8a"/>
<polygon points="773,320 779,318 781,487 777,488" fill="#d6d6d6"/>
<rect x="820" y="318" width="8" height="56" rx="4" fill="#c6c6c6"/><rect x="820" y="402" width="8" height="46" rx="4" fill="#c6c6c6"/>
<polygon points="815.0,348.8 816.3,350.5 817.4,352.2 818.3,353.9 819.0,355.5 819.5,357.1 819.8,358.6 820.0,360.2 820.0,361.6 819.7,363.1 819.3,364.4 818.7,365.7 817.9,367.0 817.0,368.2 815.8,369.3 814.5,370.4 813.0,371.3 811.3,372.2 809.5,373.1 807.5,373.8 805.4,374.5 803.1,375.0 800.6,375.5 798.1,375.9 795.4,376.2 792.6,376.5 789.6,376.6 786.6,376.6 783.5,376.6 780.3,376.4 777.0,376.2 773.6,375.9 770.2,375.5 766.7,375.0 763.2,374.4 759.7,373.7 756.1,373.0 752.5,372.1 749.0,371.2 745.4,370.2 741.8,369.2 738.3,368.0 734.8,366.8 731.4,365.6 728.0,364.3 724.7,362.9 721.5,361.5 718.3,360.0 715.2,358.4 712.3,356.9 709.4,355.3 706.7,353.6 704.1,352.0 701.6,350.3 699.3,348.6 697.1,346.9 695.1,345.2 693.2,343.4 691.5,341.7 689.9,340.0 688.6,338.3 687.4,336.6 686.3,334.9 685.5,333.3 684.8,331.6 684.4,330.1 684.1,328.5 684.0,327.0 684.0,349.0 684.1,350.5 684.4,352.1 684.8,353.6 685.5,355.3 686.3,356.9 687.4,358.6 688.6,360.3 689.9,362.0 691.5,363.7 693.2,365.4 695.1,367.2 697.1,368.9 699.3,370.6 701.6,372.3 704.1,374.0 706.7,375.6 709.4,377.3 712.3,378.9 715.2,380.4 718.3,382.0 721.5,383.5 724.7,384.9 728.0,386.3 731.4,387.6 734.8,388.8 738.3,390.0 741.8,391.2 745.4,392.2 749.0,393.2 752.5,394.1 756.1,395.0 759.7,395.7 763.2,396.4 766.7,397.0 770.2,397.5 773.6,397.9 777.0,398.2 780.3,398.4 783.5,398.6 786.6,398.6 789.6,398.6 792.6,398.5 795.4,398.2 798.1,397.9 800.6,397.5 803.1,397.0 805.4,396.5 807.5,395.8 809.5,395.1 811.3,394.2 813.0,393.3 814.5,392.4 815.8,391.3 817.0,390.2 817.9,389.0 818.7,387.7 819.3,386.4 819.7,385.1 820.0,383.6 820.0,382.2 819.8,380.6 819.5,379.1 819.0,377.5 818.3,375.9 817.4,374.2 816.3,372.5 815.0,370.8" fill="#e8e8e8"/>
<polygon points="816.0,355.1 817.7,357.3 817.7,369.6 816.0,367.4" fill="#3a3a3a"/>
<polygon points="818.9,360.1 819.8,362.8 819.8,375.1 818.9,372.4" fill="#3a3a3a"/>
<polygon points="816.8,373.5 818.3,371.1 818.3,383.5 816.8,385.8" fill="#3a3a3a"/>
<polygon points="812.1,377.0 814.2,375.2 814.2,387.5 812.1,389.3" fill="#3a3a3a"/>
<polygon points="806.8,379.2 809.2,377.8 809.2,390.1 806.8,391.5" fill="#3a3a3a"/>
<polygon points="801.2,380.6 803.7,379.4 803.7,391.8 801.2,392.9" fill="#3a3a3a"/>
<polygon points="795.1,381.4 797.7,380.5 797.7,392.8 795.1,393.8" fill="#3a3a3a"/>
<polygon points="789.4,381.8 792.1,381.0 792.1,393.3 789.4,394.1" fill="#3a3a3a"/>
<polygon points="783.8,381.8 786.5,381.1 786.5,393.5 783.8,394.1" fill="#3a3a3a"/>
<polygon points="777.9,381.5 780.6,381.0 780.6,393.3 777.9,393.8" fill="#3a3a3a"/>
<polygon points="771.7,380.8 774.5,380.5 774.5,392.8 771.7,393.2" fill="#3a3a3a"/>
<polygon points="765.9,380.0 768.7,379.8 768.7,392.1 765.9,392.4" fill="#3a3a3a"/>
<polygon points="760.6,379.1 763.4,378.9 763.4,391.2 760.6,391.4" fill="#3a3a3a"/>
<polygon points="754.7,377.8 757.5,377.8 757.5,390.1 754.7,390.1" fill="#3a3a3a"/>
<polygon points="749.3,376.5 752.1,376.5 752.1,388.8 749.3,388.8" fill="#3a3a3a"/>
<polygon points="743.3,374.8 746.1,374.9 746.1,387.3 743.3,387.1" fill="#3a3a3a"/>
<polygon points="738.0,373.1 740.8,373.3 740.8,385.7 738.0,385.4" fill="#3a3a3a"/>
<polygon points="732.7,371.3 735.5,371.6 735.5,383.9 732.7,383.6" fill="#3a3a3a"/>
<polygon points="727.0,369.0 729.8,369.5 729.8,381.8 727.0,381.4" fill="#3a3a3a"/>
<polygon points="721.5,366.7 724.2,367.2 724.2,379.5 721.5,379.0" fill="#3a3a3a"/>
<polygon points="716.7,364.4 719.5,365.0 719.5,377.4 716.7,376.7" fill="#3a3a3a"/>
<polygon points="711.2,361.5 713.9,362.3 713.9,374.6 711.2,373.8" fill="#3a3a3a"/>
<polygon points="706.5,358.7 709.1,359.6 709.1,372.0 706.5,371.0" fill="#3a3a3a"/>
<polygon points="701.7,355.6 704.3,356.7 704.3,369.0 701.7,367.9" fill="#3a3a3a"/>
<polygon points="697.1,352.0 699.6,353.4 699.6,365.7 697.1,364.4" fill="#3a3a3a"/>
<polygon points="692.7,348.2 695.1,349.7 695.1,362.0 692.7,360.5" fill="#3a3a3a"/>
<polygon points="688.7,343.7 690.8,345.6 690.8,357.9 688.7,356.0" fill="#3a3a3a"/>
<polygon points="685.7,338.9 687.3,341.2 687.3,353.6 685.7,351.2" fill="#3a3a3a"/>
<polygon points="684.0,333.3 684.6,336.0 684.6,348.3 684.0,345.6" fill="#3a3a3a"/>
<polygon points="728,373 766,370 768,397 730,399" fill="#cfcfcf"/><polygon points="728,373 766,370 766,377 728,380" fill="#ececec"/>
<polygon points="807.6,418.5 808.7,420.7 809.7,422.9 810.5,425.0 811.1,427.2 811.6,429.2 811.9,431.3 812.0,433.2 812.0,435.1 811.8,437.0 811.4,438.8 810.9,440.5 810.2,442.1 809.3,443.7 808.3,445.1 807.1,446.5 805.8,447.8 804.3,449.0 802.7,450.0 801.0,451.0 799.1,451.9 797.1,452.6 794.9,453.3 792.7,453.8 790.3,454.2 787.8,454.5 785.2,454.7 782.5,454.8 779.8,454.7 776.9,454.6 774.0,454.3 771.1,453.9 768.1,453.4 765.0,452.8 761.9,452.0 758.8,451.2 755.6,450.2 752.5,449.2 749.3,448.0 746.2,446.7 743.0,445.4 739.9,443.9 736.8,442.4 733.8,440.8 730.8,439.1 727.9,437.3 725.1,435.5 722.3,433.6 719.6,431.6 717.0,429.6 714.4,427.6 712.0,425.4 709.7,423.3 707.6,421.1 705.5,418.9 703.6,416.7 701.8,414.5 700.1,412.3 698.6,410.0 697.2,407.8 696.0,405.6 695.0,403.4 694.1,401.3 693.3,399.1 692.7,397.0 692.3,395.0 692.1,393.0 692.0,391.0 692.0,414.0 692.1,416.0 692.3,418.0 692.7,420.0 693.3,422.1 694.1,424.3 695.0,426.4 696.0,428.6 697.2,430.8 698.6,433.0 700.1,435.3 701.8,437.5 703.6,439.7 705.5,441.9 707.6,444.1 709.7,446.3 712.0,448.4 714.4,450.6 717.0,452.6 719.6,454.6 722.3,456.6 725.1,458.5 727.9,460.3 730.8,462.1 733.8,463.8 736.8,465.4 739.9,466.9 743.0,468.4 746.2,469.7 749.3,471.0 752.5,472.2 755.6,473.2 758.8,474.2 761.9,475.0 765.0,475.8 768.1,476.4 771.1,476.9 774.0,477.3 776.9,477.6 779.8,477.7 782.5,477.8 785.2,477.7 787.8,477.5 790.3,477.2 792.7,476.8 794.9,476.3 797.1,475.6 799.1,474.9 801.0,474.0 802.7,473.0 804.3,472.0 805.8,470.8 807.1,469.5 808.3,468.1 809.3,466.7 810.2,465.1 810.9,463.5 811.4,461.8 811.8,460.0 812.0,458.1 812.0,456.2 811.9,454.3 811.6,452.2 811.1,450.2 810.5,448.0 809.7,445.9 808.7,443.7 807.6,441.5" fill="#e8e8e8"/>
<polygon points="808.4,425.3 809.7,427.8 809.7,440.6 808.4,438.2" fill="#3a3a3a"/>
<polygon points="810.6,430.6 811.4,433.3 811.4,446.1 810.6,443.5" fill="#3a3a3a"/>
<polygon points="811.2,444.7 811.8,442.0 811.8,454.8 811.2,457.6" fill="#3a3a3a"/>
<polygon points="808.8,449.8 810.0,447.3 810.0,460.2 808.8,462.7" fill="#3a3a3a"/>
<polygon points="804.8,454.0 806.6,451.8 806.6,464.7 804.8,466.9" fill="#3a3a3a"/>
<polygon points="799.7,457.1 801.9,455.2 801.9,468.1 799.7,469.9" fill="#3a3a3a"/>
<polygon points="794.2,459.0 796.6,457.5 796.6,470.3 794.2,471.8" fill="#3a3a3a"/>
<polygon points="788.3,460.0 790.8,458.8 790.8,471.7 788.3,472.9" fill="#3a3a3a"/>
<polygon points="782.7,460.3 785.3,459.3 785.3,472.2 782.7,473.2" fill="#3a3a3a"/>
<polygon points="776.6,460.1 779.3,459.3 779.3,472.2 776.6,473.0" fill="#3a3a3a"/>
<polygon points="770.7,459.4 773.5,458.8 773.5,471.7 770.7,472.3" fill="#3a3a3a"/>
<polygon points="765.2,458.4 767.9,457.9 767.9,470.8 765.2,471.2" fill="#3a3a3a"/>
<polygon points="759.4,456.9 762.2,456.7 762.2,469.6 759.4,469.8" fill="#3a3a3a"/>
<polygon points="753.7,455.1 756.5,455.1 756.5,467.9 753.7,468.0" fill="#3a3a3a"/>
<polygon points="748.4,453.2 751.2,453.3 751.2,466.2 748.4,466.1" fill="#3a3a3a"/>
<polygon points="743.1,451.0 745.9,451.2 745.9,464.1 743.1,463.9" fill="#3a3a3a"/>
<polygon points="737.9,448.5 740.7,448.9 740.7,461.8 737.9,461.4" fill="#3a3a3a"/>
<polygon points="732.8,445.8 735.6,446.3 735.6,459.2 732.8,458.7" fill="#3a3a3a"/>
<polygon points="727.8,442.8 730.6,443.5 730.6,456.4 727.8,455.7" fill="#3a3a3a"/>
<polygon points="722.6,439.4 725.3,440.2 725.3,453.1 722.6,452.3" fill="#3a3a3a"/>
<polygon points="718.1,436.0 720.7,437.1 720.7,449.9 718.1,448.9" fill="#3a3a3a"/>
<polygon points="713.8,432.5 716.3,433.7 716.3,446.6 713.8,445.4" fill="#3a3a3a"/>
<polygon points="709.5,428.5 711.9,430.0 711.9,442.8 709.5,441.4" fill="#3a3a3a"/>
<polygon points="705.2,424.1 707.4,425.7 707.4,438.6 705.2,436.9" fill="#3a3a3a"/>
<polygon points="701.7,419.9 703.8,421.7 703.8,434.6 701.7,432.8" fill="#3a3a3a"/>
<polygon points="698.2,414.9 700.1,417.0 700.1,429.9 698.2,427.8" fill="#3a3a3a"/>
<polygon points="695.5,409.9 697.0,412.3 697.0,425.2 695.5,422.8" fill="#3a3a3a"/>
<polygon points="693.3,404.4 694.4,406.9 694.4,419.8 693.3,417.2" fill="#3a3a3a"/>
<polygon points="692.1,399.0 692.7,401.8 692.7,414.6 692.1,411.9" fill="#3a3a3a"/>
<polygon points="733,450 767,447 768,475 735,477" fill="#cfcfcf"/><polygon points="733,450 767,447 767,454 733,457" fill="#ececec"/>
</g>
<g id="u2">
<polygon points="825.0,517.0 825.1,514.9 825.5,512.8 826.1,510.7 826.9,508.7 828.0,506.6 829.4,504.6 830.9,502.7 832.7,500.7 834.7,498.8 836.9,497.0 839.4,495.2 842.0,493.5 844.8,491.8 847.9,490.2 851.1,488.7 854.4,487.3 858.0,485.9 861.7,484.6 865.5,483.5 869.5,482.4 873.6,481.4 877.8,480.5 882.1,479.7 886.5,479.0 891.0,478.4 895.5,477.9 900.1,477.5 904.7,477.2 909.3,477.1 914.0,477.0 918.7,477.1 923.3,477.2 927.9,477.5 932.5,477.9 937.0,478.4 941.5,479.0 945.9,479.7 950.2,480.5 954.4,481.4 958.5,482.4 962.5,483.5 966.3,484.6 970.0,485.9 973.6,487.3 976.9,488.7 980.1,490.2 983.2,491.8 986.0,493.5 988.6,495.2 991.1,497.0 993.3,498.8 995.3,500.7 997.1,502.7 998.6,504.6 1000.0,506.6 1001.1,508.7 1001.9,510.7 1002.5,512.8 1002.9,514.9 1003.0,517.0 1003.0,539.0 1002.9,536.9 1002.5,534.8 1001.9,532.7 1001.1,530.7 1000.0,528.6 998.6,526.6 997.1,524.7 995.3,522.7 993.3,520.8 991.1,519.0 988.6,517.2 986.0,515.5 983.2,513.8 980.1,512.2 976.9,510.7 973.6,509.3 970.0,507.9 966.3,506.6 962.5,505.5 958.5,504.4 954.4,503.4 950.2,502.5 945.9,501.7 941.5,501.0 937.0,500.4 932.5,499.9 927.9,499.5 923.3,499.2 918.7,499.1 914.0,499.0 909.3,499.1 904.7,499.2 900.1,499.5 895.5,499.9 891.0,500.4 886.5,501.0 882.1,501.7 877.8,502.5 873.6,503.4 869.5,504.4 865.5,505.5 861.7,506.6 858.0,507.9 854.4,509.3 851.1,510.7 847.9,512.2 844.8,513.8 842.0,515.5 839.4,517.2 836.9,519.0 834.7,520.8 832.7,522.7 830.9,524.7 829.4,526.6 828.0,528.6 826.9,530.7 826.1,532.7 825.5,534.8 825.1,536.9 825.0,539.0" fill="#d8d8d8"/>
<polygon points="826.5,514.4 827.8,511.9 827.8,524.2 826.5,526.7" fill="#1e1e1e"/>
<polygon points="829.6,509.1 831.4,506.9 831.4,519.2 829.6,521.4" fill="#1e1e1e"/>
<polygon points="833.7,504.6 835.8,502.8 835.8,515.1 833.7,516.9" fill="#1e1e1e"/>
<polygon points="838.5,500.7 840.8,499.1 840.8,511.4 838.5,513.0" fill="#1e1e1e"/>
<polygon points="843.3,497.5 845.8,496.1 845.8,508.5 843.3,509.8" fill="#1e1e1e"/>
<polygon points="848.8,494.6 851.4,493.4 851.4,505.7 848.8,506.9" fill="#1e1e1e"/>
<polygon points="854.4,492.1 857.0,491.1 857.0,503.4 854.4,504.5" fill="#1e1e1e"/>
<polygon points="859.8,490.1 862.5,489.2 862.5,501.5 859.8,502.4" fill="#1e1e1e"/>
<polygon points="865.6,488.3 868.3,487.5 868.3,499.8 865.6,500.6" fill="#1e1e1e"/>
<polygon points="871.0,486.8 873.7,486.2 873.7,498.5 871.0,499.1" fill="#1e1e1e"/>
<polygon points="877.3,485.4 880.0,484.9 880.0,497.2 877.3,497.7" fill="#1e1e1e"/>
<polygon points="883.1,484.3 885.9,483.9 885.9,496.2 883.1,496.6" fill="#1e1e1e"/>
<polygon points="889.1,483.4 891.9,483.1 891.9,495.4 889.1,495.7" fill="#1e1e1e"/>
<polygon points="895.2,482.7 898.0,482.5 898.0,494.8 895.2,495.1" fill="#1e1e1e"/>
<polygon points="900.8,482.3 903.5,482.1 903.5,494.4 900.8,494.6" fill="#1e1e1e"/>
<polygon points="907.0,482.0 909.8,481.9 909.8,494.2 907.0,494.3" fill="#1e1e1e"/>
<polygon points="912.6,481.8 915.4,481.8 915.4,494.2 912.6,494.2" fill="#1e1e1e"/>
<polygon points="918.9,481.9 921.7,482.0 921.7,494.3 918.9,494.2" fill="#1e1e1e"/>
<polygon points="925.1,482.1 927.9,482.3 927.9,494.6 925.1,494.5" fill="#1e1e1e"/>
<polygon points="930.7,482.5 933.4,482.8 933.4,495.1 930.7,494.9" fill="#1e1e1e"/>
<polygon points="936.8,483.2 939.5,483.5 939.5,495.8 936.8,495.5" fill="#1e1e1e"/>
<polygon points="942.8,484.0 945.5,484.4 945.5,496.7 942.8,496.3" fill="#1e1e1e"/>
<polygon points="948.6,485.0 951.4,485.5 951.4,497.8 948.6,497.3" fill="#1e1e1e"/>
<polygon points="954.3,486.2 957.0,486.8 957.0,499.1 954.3,498.5" fill="#1e1e1e"/>
<polygon points="960.3,487.7 963.0,488.5 963.0,500.8 960.3,500.0" fill="#1e1e1e"/>
<polygon points="966.1,489.4 968.8,490.3 968.8,502.6 966.1,501.7" fill="#1e1e1e"/>
<polygon points="971.6,491.3 974.2,492.4 974.2,504.7 971.6,503.6" fill="#1e1e1e"/>
<polygon points="977.1,493.6 979.7,494.8 979.7,507.1 977.1,506.0" fill="#1e1e1e"/>
<polygon points="982.7,496.4 985.1,497.8 985.1,510.1 982.7,508.7" fill="#1e1e1e"/>
<polygon points="987.6,499.3 989.9,500.9 989.9,513.3 987.6,511.7" fill="#1e1e1e"/>
<polygon points="992.6,503.0 994.7,504.9 994.7,517.2 992.6,515.3" fill="#1e1e1e"/>
<polygon points="996.9,507.2 998.6,509.4 998.6,521.7 996.9,519.5" fill="#1e1e1e"/>
<polygon points="1000.4,512.2 1001.6,514.7 1001.6,527.0 1000.4,524.5" fill="#1e1e1e"/>
<polygon points="835.0,578.0 835.1,576.0 835.4,574.0 836.0,572.1 836.7,570.1 837.7,568.2 838.9,566.3 840.3,564.4 841.9,562.5 843.7,560.7 845.7,559.0 847.9,557.3 850.3,555.7 852.8,554.1 855.5,552.6 858.4,551.1 861.5,549.8 864.7,548.5 868.0,547.3 871.4,546.1 875.0,545.1 878.7,544.1 882.5,543.3 886.3,542.5 890.3,541.9 894.3,541.3 898.4,540.8 902.5,540.5 906.6,540.2 910.8,540.1 915.0,540.0 919.2,540.1 923.4,540.2 927.5,540.5 931.6,540.8 935.7,541.3 939.7,541.9 943.7,542.5 947.5,543.3 951.3,544.1 955.0,545.1 958.6,546.1 962.0,547.3 965.3,548.5 968.5,549.8 971.6,551.1 974.5,552.6 977.2,554.1 979.7,555.7 982.1,557.3 984.3,559.0 986.3,560.7 988.1,562.5 989.7,564.4 991.1,566.3 992.3,568.2 993.3,570.1 994.0,572.1 994.6,574.0 994.9,576.0 995.0,578.0 995.0,598.0 994.9,596.0 994.6,594.0 994.0,592.1 993.3,590.1 992.3,588.2 991.1,586.3 989.7,584.4 988.1,582.5 986.3,580.7 984.3,579.0 982.1,577.3 979.7,575.7 977.2,574.1 974.5,572.6 971.6,571.1 968.5,569.8 965.3,568.5 962.0,567.3 958.6,566.1 955.0,565.1 951.3,564.1 947.5,563.3 943.7,562.5 939.7,561.9 935.7,561.3 931.6,560.8 927.5,560.5 923.4,560.2 919.2,560.1 915.0,560.0 910.8,560.1 906.6,560.2 902.5,560.5 898.4,560.8 894.3,561.3 890.3,561.9 886.3,562.5 882.5,563.3 878.7,564.1 875.0,565.1 871.4,566.1 868.0,567.3 864.7,568.5 861.5,569.8 858.4,571.1 855.5,572.6 852.8,574.1 850.3,575.7 847.9,577.3 845.7,579.0 843.7,580.7 841.9,582.5 840.3,584.4 838.9,586.3 837.7,588.2 836.7,590.1 836.0,592.1 835.4,594.0 835.1,596.0 835.0,598.0" fill="#d0d0d0"/>
<polygon points="835.0,580.5 835.5,577.7 835.5,588.9 835.0,591.7" fill="#1e1e1e"/>
<polygon points="836.6,574.8 837.8,572.3 837.8,583.5 836.6,586.0" fill="#1e1e1e"/>
<polygon points="839.5,569.8 841.3,567.6 841.3,578.8 839.5,581.0" fill="#1e1e1e"/>
<polygon points="843.5,565.3 845.6,563.4 845.6,574.6 843.5,576.5" fill="#1e1e1e"/>
<polygon points="848.4,561.3 850.7,559.8 850.7,571.0 848.4,572.5" fill="#1e1e1e"/>
<polygon points="853.3,558.2 855.8,556.8 855.8,568.0 853.3,569.4" fill="#1e1e1e"/>
<polygon points="858.5,555.5 861.1,554.3 861.1,565.5 858.5,566.7" fill="#1e1e1e"/>
<polygon points="864.2,553.0 866.8,552.1 866.8,563.3 864.2,564.2" fill="#1e1e1e"/>
<polygon points="869.7,551.1 872.4,550.2 872.4,561.4 869.7,562.3" fill="#1e1e1e"/>
<polygon points="875.7,549.3 878.4,548.6 878.4,559.8 875.7,560.5" fill="#1e1e1e"/>
<polygon points="881.3,547.9 884.0,547.4 884.0,558.6 881.3,559.1" fill="#1e1e1e"/>
<polygon points="887.1,546.8 889.9,546.3 889.9,557.5 887.1,558.0" fill="#1e1e1e"/>
<polygon points="893.1,545.8 895.9,545.5 895.9,556.7 893.1,557.0" fill="#1e1e1e"/>
<polygon points="899.2,545.1 902.0,544.9 902.0,556.1 899.2,556.3" fill="#1e1e1e"/>
<polygon points="905.4,544.7 908.2,544.5 908.2,555.7 905.4,555.9" fill="#1e1e1e"/>
<polygon points="911.1,544.4 913.9,544.4 913.9,555.6 911.1,555.6" fill="#1e1e1e"/>
<polygon points="917.4,544.4 920.2,544.5 920.2,555.7 917.4,555.6" fill="#1e1e1e"/>
<polygon points="923.0,544.6 925.8,544.7 925.8,555.9 923.0,555.8" fill="#1e1e1e"/>
<polygon points="929.2,545.0 932.0,545.3 932.0,556.5 929.2,556.2" fill="#1e1e1e"/>
<polygon points="935.3,545.6 938.1,546.0 938.1,557.2 935.3,556.8" fill="#1e1e1e"/>
<polygon points="941.3,546.5 944.1,547.0 944.1,558.2 941.3,557.7" fill="#1e1e1e"/>
<polygon points="947.1,547.6 949.9,548.2 949.9,559.4 947.1,558.8" fill="#1e1e1e"/>
<polygon points="952.7,548.9 955.4,549.6 955.4,560.8 952.7,560.1" fill="#1e1e1e"/>
<polygon points="958.6,550.5 961.3,551.4 961.3,562.6 958.6,561.7" fill="#1e1e1e"/>
<polygon points="964.2,552.4 966.8,553.4 966.8,564.6 964.2,563.6" fill="#1e1e1e"/>
<polygon points="969.9,554.7 972.4,555.9 972.4,567.1 969.9,565.9" fill="#1e1e1e"/>
<polygon points="975.4,557.5 977.9,558.9 977.9,570.1 975.4,568.7" fill="#1e1e1e"/>
<polygon points="980.4,560.5 982.7,562.1 982.7,573.3 980.4,571.7" fill="#1e1e1e"/>
<polygon points="985.3,564.2 987.3,566.1 987.3,577.3 985.3,575.4" fill="#1e1e1e"/>
<polygon points="989.4,568.4 991.1,570.6 991.1,581.8 989.4,579.6" fill="#1e1e1e"/>
<polygon points="992.6,573.1 993.8,575.7 993.8,586.9 992.6,584.3" fill="#1e1e1e"/>
<polygon points="879.2,449.2 916.7,443.3 922,552 885,558" fill="url(#u2Pl)"/>
<polygon points="916.7,443.3 958.3,449.2 960,545 922,552" fill="#e2e2e2"/>
<polygon points="920,470 958,474 958,500 920,496" fill="#d0d0d0"/>
<polygon points="958.3,449.2 983.3,461.7 983,540 960,545" fill="#c8c8c8"/>
<polygon points="958.3,449.2 983.3,461.7 983.3,466 958.3,453" fill="#8e8e8e"/>
<rect x="897.5" y="464.2" width="8.3" height="35" rx="4.15" fill="#1c1c1c"/><rect x="897.5" y="520" width="8.3" height="30" rx="4.15" fill="#1c1c1c"/>
<path d="M906.0,474.0 Q936.0,477.0 966.0,474.0 L966.0,495.0 Q936.0,498.0 906.0,495.0 Z" fill="#eaeaea"/>
<rect x="910.4" y="478.6" width="2.6" height="12.6" fill="#b0b0b0"/>
<rect x="915.9" y="479.0" width="2.6" height="12.6" fill="#b0b0b0"/>
<rect x="921.4" y="479.3" width="2.6" height="12.6" fill="#b0b0b0"/>
<rect x="926.9" y="479.6" width="2.6" height="12.6" fill="#b0b0b0"/>
<rect x="932.4" y="479.7" width="2.6" height="12.6" fill="#b0b0b0"/>
<rect x="937.9" y="479.7" width="2.6" height="12.6" fill="#b0b0b0"/>
<rect x="943.4" y="479.6" width="2.6" height="12.6" fill="#b0b0b0"/>
<rect x="948.9" y="479.4" width="2.6" height="12.6" fill="#b0b0b0"/>
<rect x="954.4" y="479.1" width="2.6" height="12.6" fill="#b0b0b0"/>
<rect x="959.9" y="478.7" width="2.6" height="12.6" fill="#b0b0b0"/>
<path d="M906.0,532.0 Q936.0,535.0 966.0,532.0 L966.0,552.0 Q936.0,555.0 906.0,552.0 Z" fill="#e6e6e6"/>
<rect x="910.4" y="536.4" width="2.6" height="12.0" fill="#a8a8a8"/>
<rect x="915.9" y="536.8" width="2.6" height="12.0" fill="#a8a8a8"/>
<rect x="921.4" y="537.1" width="2.6" height="12.0" fill="#a8a8a8"/>
<rect x="926.9" y="537.4" width="2.6" height="12.0" fill="#a8a8a8"/>
<rect x="932.4" y="537.5" width="2.6" height="12.0" fill="#a8a8a8"/>
<rect x="937.9" y="537.5" width="2.6" height="12.0" fill="#a8a8a8"/>
<rect x="943.4" y="537.4" width="2.6" height="12.0" fill="#a8a8a8"/>
<rect x="948.9" y="537.2" width="2.6" height="12.0" fill="#a8a8a8"/>
<rect x="954.4" y="536.9" width="2.6" height="12.0" fill="#a8a8a8"/>
<rect x="959.9" y="536.5" width="2.6" height="12.0" fill="#a8a8a8"/>
<polygon points="1003.0,517.0 1002.9,519.1 1002.5,521.2 1001.9,523.3 1001.1,525.3 1000.0,527.4 998.6,529.4 997.1,531.3 995.3,533.3 993.3,535.2 991.1,537.0 988.6,538.8 986.0,540.5 983.2,542.2 980.1,543.8 976.9,545.3 973.6,546.7 970.0,548.1 966.3,549.4 962.5,550.5 958.5,551.6 954.4,552.6 950.2,553.5 945.9,554.3 941.5,555.0 937.0,555.6 932.5,556.1 927.9,556.5 923.3,556.8 918.7,556.9 914.0,557.0 909.3,556.9 904.7,556.8 900.1,556.5 895.5,556.1 891.0,555.6 886.5,555.0 882.1,554.3 877.8,553.5 873.6,552.6 869.5,551.6 865.5,550.5 861.7,549.4 858.0,548.1 854.4,546.7 851.1,545.3 847.9,543.8 844.8,542.2 842.0,540.5 839.4,538.8 836.9,537.0 834.7,535.2 832.7,533.3 830.9,531.3 829.4,529.4 828.0,527.4 826.9,525.3 826.1,523.3 825.5,521.2 825.1,519.1 825.0,517.0 825.0,539.0 825.1,541.1 825.5,543.2 826.1,545.3 826.9,547.3 828.0,549.4 829.4,551.4 830.9,553.3 832.7,555.3 834.7,557.2 836.9,559.0 839.4,560.8 842.0,562.5 844.8,564.2 847.9,565.8 851.1,567.3 854.4,568.7 858.0,570.1 861.7,571.4 865.5,572.5 869.5,573.6 873.6,574.6 877.8,575.5 882.1,576.3 886.5,577.0 891.0,577.6 895.5,578.1 900.1,578.5 904.7,578.8 909.3,578.9 914.0,579.0 918.7,578.9 923.3,578.8 927.9,578.5 932.5,578.1 937.0,577.6 941.5,577.0 945.9,576.3 950.2,575.5 954.4,574.6 958.5,573.6 962.5,572.5 966.3,571.4 970.0,570.1 973.6,568.7 976.9,567.3 980.1,565.8 983.2,564.2 986.0,562.5 988.6,560.8 991.1,559.0 993.3,557.2 995.3,555.3 997.1,553.3 998.6,551.4 1000.0,549.4 1001.1,547.3 1001.9,545.3 1002.5,543.2 1002.9,541.1 1003.0,539.0" fill="#e6e6e6"/>
<polygon points="1000.2,531.8 1001.5,529.3 1001.5,541.6 1000.2,544.1" fill="#1e1e1e"/>
<polygon points="996.6,536.8 998.4,534.6 998.4,546.9 996.6,549.1" fill="#1e1e1e"/>
<polygon points="992.2,540.9 994.3,539.1 994.3,551.4 992.2,553.2" fill="#1e1e1e"/>
<polygon points="987.2,544.6 989.5,543.0 989.5,555.3 987.2,556.9" fill="#1e1e1e"/>
<polygon points="982.2,547.5 984.7,546.2 984.7,558.5 982.2,559.9" fill="#1e1e1e"/>
<polygon points="976.6,550.3 979.2,549.1 979.2,561.4 976.6,562.6" fill="#1e1e1e"/>
<polygon points="971.0,552.6 973.6,551.5 973.6,563.9 971.0,564.9" fill="#1e1e1e"/>
<polygon points="965.5,554.5 968.2,553.6 968.2,565.9 965.5,566.8" fill="#1e1e1e"/>
<polygon points="959.7,556.2 962.4,555.4 962.4,567.7 959.7,568.5" fill="#1e1e1e"/>
<polygon points="954.3,557.5 957.0,556.9 957.0,569.2 954.3,569.8" fill="#1e1e1e"/>
<polygon points="948.0,558.8 950.7,558.3 950.7,570.6 948.0,571.1" fill="#1e1e1e"/>
<polygon points="942.1,559.8 944.9,559.4 944.9,571.7 942.1,572.1" fill="#1e1e1e"/>
<polygon points="936.1,560.6 938.9,560.3 938.9,572.6 936.1,572.9" fill="#1e1e1e"/>
<polygon points="930.0,561.2 932.8,560.9 932.8,573.3 930.0,573.5" fill="#1e1e1e"/>
<polygon points="924.5,561.6 927.2,561.4 927.2,573.7 924.5,573.9" fill="#1e1e1e"/>
<polygon points="918.2,561.8 921.0,561.7 921.0,574.0 918.2,574.1" fill="#1e1e1e"/>
<polygon points="912.6,561.8 915.4,561.8 915.4,574.2 912.6,574.2" fill="#1e1e1e"/>
<polygon points="906.3,561.7 909.1,561.8 909.1,574.1 906.3,574.0" fill="#1e1e1e"/>
<polygon points="900.1,561.4 902.9,561.5 902.9,573.9 900.1,573.7" fill="#1e1e1e"/>
<polygon points="894.6,560.9 897.3,561.1 897.3,573.5 894.6,573.2" fill="#1e1e1e"/>
<polygon points="888.5,560.2 891.2,560.5 891.2,572.8 888.5,572.5" fill="#1e1e1e"/>
<polygon points="882.5,559.3 885.2,559.7 885.2,572.0 882.5,571.6" fill="#1e1e1e"/>
<polygon points="876.6,558.2 879.4,558.7 879.4,571.0 876.6,570.5" fill="#1e1e1e"/>
<polygon points="871.0,556.9 873.7,557.5 873.7,569.8 871.0,569.2" fill="#1e1e1e"/>
<polygon points="865.0,555.2 867.7,556.0 867.7,568.3 865.0,567.5" fill="#1e1e1e"/>
<polygon points="859.2,553.4 861.9,554.3 861.9,566.6 859.2,565.7" fill="#1e1e1e"/>
<polygon points="853.8,551.3 856.4,552.4 856.4,564.7 853.8,563.6" fill="#1e1e1e"/>
<polygon points="848.3,548.9 850.9,550.0 850.9,562.4 848.3,561.2" fill="#1e1e1e"/>
<polygon points="842.9,545.9 845.3,547.3 845.3,559.6 842.9,558.2" fill="#1e1e1e"/>
<polygon points="838.1,542.7 840.4,544.3 840.4,556.7 838.1,555.1" fill="#1e1e1e"/>
<polygon points="833.3,538.8 835.4,540.7 835.4,553.0 833.3,551.1" fill="#1e1e1e"/>
<polygon points="829.4,534.3 831.1,536.5 831.1,548.8 829.4,546.6" fill="#1e1e1e"/>
<polygon points="826.4,529.0 827.6,531.5 827.6,543.8 826.4,541.3" fill="#1e1e1e"/>
<polygon points="995.0,578.0 994.9,580.0 994.6,582.0 994.0,583.9 993.3,585.9 992.3,587.8 991.1,589.7 989.7,591.6 988.1,593.5 986.3,595.3 984.3,597.0 982.1,598.7 979.7,600.3 977.2,601.9 974.5,603.4 971.6,604.9 968.5,606.2 965.3,607.5 962.0,608.7 958.6,609.9 955.0,610.9 951.3,611.9 947.5,612.7 943.7,613.5 939.7,614.1 935.7,614.7 931.6,615.2 927.5,615.5 923.4,615.8 919.2,615.9 915.0,616.0 910.8,615.9 906.6,615.8 902.5,615.5 898.4,615.2 894.3,614.7 890.3,614.1 886.3,613.5 882.5,612.7 878.7,611.9 875.0,610.9 871.4,609.9 868.0,608.7 864.7,607.5 861.5,606.2 858.4,604.9 855.5,603.4 852.8,601.9 850.3,600.3 847.9,598.7 845.7,597.0 843.7,595.3 841.9,593.5 840.3,591.6 838.9,589.7 837.7,587.8 836.7,585.9 836.0,583.9 835.4,582.0 835.1,580.0 835.0,578.0 835.0,598.0 835.1,600.0 835.4,602.0 836.0,603.9 836.7,605.9 837.7,607.8 838.9,609.7 840.3,611.6 841.9,613.5 843.7,615.3 845.7,617.0 847.9,618.7 850.3,620.3 852.8,621.9 855.5,623.4 858.4,624.9 861.5,626.2 864.7,627.5 868.0,628.7 871.4,629.9 875.0,630.9 878.7,631.9 882.5,632.7 886.3,633.5 890.3,634.1 894.3,634.7 898.4,635.2 902.5,635.5 906.6,635.8 910.8,635.9 915.0,636.0 919.2,635.9 923.4,635.8 927.5,635.5 931.6,635.2 935.7,634.7 939.7,634.1 943.7,633.5 947.5,632.7 951.3,631.9 955.0,630.9 958.6,629.9 962.0,628.7 965.3,627.5 968.5,626.2 971.6,624.9 974.5,623.4 977.2,621.9 979.7,620.3 982.1,618.7 984.3,617.0 986.3,615.3 988.1,613.5 989.7,611.6 991.1,609.7 992.3,607.8 993.3,605.9 994.0,603.9 994.6,602.0 994.9,600.0 995.0,598.0" fill="#e2e2e2"/>
<polygon points="994.5,587.1 995.0,584.3 995.0,595.5 994.5,598.3" fill="#1e1e1e"/>
<polygon points="992.2,592.5 993.4,590.0 993.4,601.2 992.2,603.7" fill="#1e1e1e"/>
<polygon points="988.7,597.2 990.5,595.0 990.5,606.2 988.7,608.4" fill="#1e1e1e"/>
<polygon points="984.4,601.4 986.5,599.5 986.5,610.7 984.4,612.6" fill="#1e1e1e"/>
<polygon points="979.3,605.0 981.6,603.5 981.6,614.7 979.3,616.2" fill="#1e1e1e"/>
<polygon points="974.2,608.0 976.7,606.6 976.7,617.8 974.2,619.2" fill="#1e1e1e"/>
<polygon points="968.9,610.5 971.5,609.3 971.5,620.5 968.9,621.7" fill="#1e1e1e"/>
<polygon points="963.2,612.7 965.8,611.8 965.8,623.0 963.2,623.9" fill="#1e1e1e"/>
<polygon points="957.6,614.6 960.3,613.7 960.3,624.9 957.6,625.8" fill="#1e1e1e"/>
<polygon points="951.6,616.2 954.3,615.5 954.3,626.7 951.6,627.4" fill="#1e1e1e"/>
<polygon points="946.0,617.4 948.7,616.9 948.7,628.1 946.0,628.6" fill="#1e1e1e"/>
<polygon points="940.1,618.5 942.9,618.0 942.9,629.2 940.1,629.7" fill="#1e1e1e"/>
<polygon points="934.1,619.3 936.9,619.0 936.9,630.2 934.1,630.5" fill="#1e1e1e"/>
<polygon points="928.0,619.9 930.8,619.7 930.8,630.9 928.0,631.1" fill="#1e1e1e"/>
<polygon points="921.8,620.3 924.6,620.1 924.6,631.3 921.8,631.5" fill="#1e1e1e"/>
<polygon points="916.1,620.4 918.9,620.4 918.9,631.6 916.1,631.6" fill="#1e1e1e"/>
<polygon points="909.8,620.3 912.6,620.4 912.6,631.6 909.8,631.5" fill="#1e1e1e"/>
<polygon points="904.2,620.1 907.0,620.2 907.0,631.4 904.2,631.3" fill="#1e1e1e"/>
<polygon points="898.0,619.5 900.8,619.8 900.8,631.0 898.0,630.7" fill="#1e1e1e"/>
<polygon points="891.9,618.8 894.7,619.2 894.7,630.4 891.9,630.0" fill="#1e1e1e"/>
<polygon points="885.9,617.8 888.7,618.3 888.7,629.5 885.9,629.0" fill="#1e1e1e"/>
<polygon points="880.1,616.6 882.9,617.2 882.9,628.4 880.1,627.8" fill="#1e1e1e"/>
<polygon points="874.6,615.2 877.3,615.9 877.3,627.1 874.6,626.4" fill="#1e1e1e"/>
<polygon points="868.7,613.4 871.4,614.3 871.4,625.5 868.7,624.6" fill="#1e1e1e"/>
<polygon points="863.2,611.4 865.8,612.4 865.8,623.6 863.2,622.6" fill="#1e1e1e"/>
<polygon points="857.6,608.9 860.1,610.1 860.1,621.3 857.6,620.1" fill="#1e1e1e"/>
<polygon points="852.1,605.9 854.6,607.3 854.6,618.5 852.1,617.1" fill="#1e1e1e"/>
<polygon points="847.3,602.7 849.6,604.3 849.6,615.5 847.3,613.9" fill="#1e1e1e"/>
<polygon points="842.7,598.7 844.7,600.6 844.7,611.8 842.7,609.9" fill="#1e1e1e"/>
<polygon points="838.9,594.2 840.6,596.4 840.6,607.6 838.9,605.4" fill="#1e1e1e"/>
<polygon points="836.2,589.1 837.4,591.7 837.4,602.9 836.2,600.3" fill="#1e1e1e"/>
<polygon points="943,570 946,559 1000,546 1005,552 1003,566 957,585 943,578" fill="#d6d6d6"/>
<polygon points="950,561 999,549 1003,556 954,571" fill="#9c9c9c"/><polygon points="946,559 1000,546 1002,549 949,562" fill="#e8e8e8"/>
<polygon points="941,626 944,614 992,602 996,609 994,621 951,645 941,636" fill="#d2d2d2"/>
<polygon points="948,616 991,605 994,612 952,627" fill="#9a9a9a"/><polygon points="944,614 992,602 993,605 946,617" fill="#e4e4e4"/>
</g>
<g id="us2">
<rect x="650" y="596" width="32" height="128" fill="#c6c6c6"/><rect x="650" y="596" width="4" height="128" fill="#d8d8d8"/>
</g>
<g id="us3">
<polygon points="599,610.5 647,604.5 650,606 632,621 632,694 600.4,699 597,696 597,613" fill="url(#usPl)"/>
<polygon points="631,621 647,604.5 666.3,609 633,622" fill="#b2b2b2"/>
<polygon points="631,622 666.3,609 666.3,699 632.5,716.3" fill="url(#usFl)"/>
<polygon points="630.5,621 634.5,620 636,715 632.5,716.3" fill="#e6e6e6"/>
<rect x="618.6" y="618.4" width="11.3" height="26" rx="5.65" fill="#161616"/>
<path d="M629.9,627.5 V638.75 A5.65,5.65 0 0 1 624.25,644.4" stroke="#e0e0e0" stroke-width="1.6" fill="none"/>
<rect x="618.6" y="659" width="11.3" height="25.3" rx="5.65" fill="#161616"/>
<path d="M629.9,667.855 V678.65 A5.65,5.65 0 0 1 624.25,684.3" stroke="#e0e0e0" stroke-width="1.6" fill="none"/>
<rect x="649.8" y="628" width="6.9" height="26" rx="3.45" fill="#c4c4c4"/>
<ellipse cx="653.25" cy="651" rx="3.45" ry="3" fill="#f4f4f4"/>
<rect x="649.8" y="669.5" width="6.9" height="26" rx="3.45" fill="#c4c4c4"/>
<ellipse cx="653.25" cy="692.5" rx="3.45" ry="3" fill="#f4f4f4"/>
</g>
<defs>
 <linearGradient id="rpPole" x1="0" y1="0" x2="1" y2="0">
  <stop offset="0" stop-color="#7c7c7c"/><stop offset="0.1" stop-color="#727272"/><stop offset="0.35" stop-color="#686868"/><stop offset="0.75" stop-color="#626262"/><stop offset="0.96" stop-color="#5e5e5e"/><stop offset="0.98" stop-color="#9a9a9a"/><stop offset="1" stop-color="#5a5a5a"/>
 </linearGradient>
 <linearGradient id="rpPoleM" x1="0" y1="0" x2="1" y2="0">
  <stop offset="0" stop-color="#7a7a7a"/><stop offset="0.25" stop-color="#686868"/><stop offset="0.5" stop-color="#575757"/><stop offset="0.8" stop-color="#6c6c6c"/><stop offset="0.95" stop-color="#7c7c7c"/><stop offset="0.975" stop-color="#a4a4a4"/><stop offset="1" stop-color="#6a6a6a"/>
 </linearGradient>
 <linearGradient id="rpPoleB" x1="0" y1="0" x2="1" y2="0">
  <stop offset="0" stop-color="#8e8e8e"/><stop offset="0.05" stop-color="#6a6a6a"/><stop offset="0.25" stop-color="#4c4c4c"/><stop offset="0.5" stop-color="#565656"/><stop offset="0.9" stop-color="#767676"/><stop offset="0.97" stop-color="#8a8a8a"/><stop offset="1" stop-color="#6a6a6a"/>
 </linearGradient>
 <linearGradient id="bandBR" x1="0" y1="0" x2="1" y2="0">
  <stop offset="0" stop-color="#8c8c8c"/><stop offset="0.4" stop-color="#b8b8b8"/><stop offset="0.55" stop-color="#e0e0e0"/><stop offset="1" stop-color="#e8e8e8"/>
 </linearGradient>
 <linearGradient id="rpFrame" x1="0" y1="0" x2="1" y2="0">
  <stop offset="0" stop-color="#d8d8d8"/><stop offset="0.06" stop-color="#d0d0d0"/><stop offset="0.3" stop-color="#c6c6c6"/><stop offset="0.7" stop-color="#c2c2c2"/><stop offset="1" stop-color="#c6c6c6"/>
 </linearGradient>
 <linearGradient id="rpFrame2" x1="0" y1="0" x2="1" y2="0">
  <stop offset="0" stop-color="#b8b8b8"/><stop offset="0.7" stop-color="#b2b2b2"/><stop offset="0.71" stop-color="#d8d8d8"/><stop offset="1" stop-color="#d4d4d4"/>
 </linearGradient>
 <linearGradient id="rpPlate" x1="0" y1="0" x2="0" y2="1">
  <stop offset="0" stop-color="#989898"/><stop offset="1" stop-color="#8a8a8a"/>
 </linearGradient>
</defs>
<g id="tr">
<rect x="1315.9" y="9" width="62.3" height="224" fill="url(#rpPole)"/>
<rect x="1392.9" y="9" width="37.4" height="224" fill="url(#rpFrame)"/>
<rect x="1392.9" y="9" width="37.4" height="224" fill="#000" filter="url(#brush)" opacity="0.22"/>
<rect x="1315.9" y="9" width="62.3" height="224" fill="#000" filter="url(#brush)" opacity="0.12"/>
<path d="M1358,69 L1410.5,72.5 L1410.5,204 Q1410.5,207 1407,207 L1358,206 Q1353.7,206 1353.7,202 L1353.7,73 Q1353.7,69 1358,69 Z" fill="#8a8988"/>
<path d="M1358,69 L1360,69.2 L1360,206 L1358,206 Q1353.7,206 1353.7,202 L1353.7,73 Q1353.7,69 1358,69 Z" fill="#bdbdbd"/>
<rect x="1381.6" y="86.4" width="12" height="39.19999999999999" rx="6" fill="#2c2c2c"/><rect x="1384" y="91.4" width="7" height="29.19999999999999" rx="3.5" fill="#4e4e4e"/>
<rect x="1381.6" y="148" width="12" height="36.80000000000001" rx="6" fill="#2c2c2c"/><rect x="1384" y="153" width="7" height="26.80000000000001" rx="3.5" fill="#4e4e4e"/>
<rect x="1308.3" y="96.8" width="70.9" height="21.6" rx="1.5" fill="#e2e2e2"/>
<rect x="1311.5" y="100.3" width="1.9" height="14.7" fill="#505050"/>
<rect x="1315.5" y="100.3" width="1.9" height="14.7" fill="#505050"/>
<rect x="1319.5" y="100.3" width="1.9" height="14.7" fill="#505050"/>
<rect x="1351.5" y="100.3" width="1.9" height="14.7" fill="#505050"/>
<rect x="1355.5" y="100.3" width="1.9" height="14.7" fill="#505050"/>
<rect x="1359.5" y="100.3" width="1.9" height="14.7" fill="#505050"/>
<rect x="1363.5" y="100.3" width="1.9" height="14.7" fill="#505050"/>
<rect x="1367.5" y="100.3" width="1.9" height="14.7" fill="#505050"/>
<rect x="1371.5" y="100.3" width="1.9" height="14.7" fill="#505050"/>
<rect x="1375.5" y="100.3" width="1.9" height="14.7" fill="#505050"/>
<rect x="1325.6" y="100" width="23.2" height="15.2" fill="#c8c8c8" stroke="#f0f0f0" stroke-width="1.2"/>
<path d="M1308.3,154.5 Q1345.7,159.5 1383.0,154.5 L1383.0,178.5 Q1345.7,183.5 1308.3,178.5 Z" fill="#e2e2e2"/>
<rect x="1311.5" y="158.8" width="1.9" height="16.3" fill="#505050"/>
<rect x="1315.5" y="159.2" width="1.9" height="16.3" fill="#505050"/>
<rect x="1319.5" y="159.6" width="1.9" height="16.3" fill="#505050"/>
<rect x="1351.5" y="160.8" width="1.9" height="16.3" fill="#505050"/>
<rect x="1355.5" y="160.7" width="1.9" height="16.3" fill="#505050"/>
<rect x="1359.5" y="160.5" width="1.9" height="16.3" fill="#505050"/>
<rect x="1363.5" y="160.3" width="1.9" height="16.3" fill="#505050"/>
<rect x="1367.5" y="160.0" width="1.9" height="16.3" fill="#505050"/>
<rect x="1371.5" y="159.6" width="1.9" height="16.3" fill="#505050"/>
<rect x="1375.5" y="159.2" width="1.9" height="16.3" fill="#505050"/>
<rect x="1325.6" y="164" width="23.2" height="15.2" fill="#c8c8c8" stroke="#f0f0f0" stroke-width="1.2"/>
</g>
<g id="mr">
<rect x="1340.3" y="250" width="67.2" height="233.3" fill="url(#rpPoleM)"/>
<rect x="1340.3" y="250" width="67.2" height="233.3" fill="#000" filter="url(#brush)" opacity="0.12"/>
<rect x="1331.7" y="312.8" width="8.6" height="140.8" rx="1.5" fill="#c6c6c6"/><rect x="1333" y="314" width="2.5" height="138" fill="#e4e4e4"/>
<rect x="1408.5" y="313.9" width="8.5" height="138.6" rx="1.5" fill="#bcbcbc"/><rect x="1410" y="315" width="2.5" height="136" fill="#dadada"/>
<rect x="1329.6" y="340.5" width="76.4" height="23.5" rx="1.5" fill="#d6d6d6"/>
<rect x="1332.9" y="344.3" width="1.9" height="16.0" fill="#404040"/>
<rect x="1337.0" y="344.3" width="1.9" height="16.0" fill="#404040"/>
<rect x="1341.1" y="344.3" width="1.9" height="16.0" fill="#404040"/>
<rect x="1345.2" y="344.3" width="1.9" height="16.0" fill="#404040"/>
<rect x="1349.3" y="344.3" width="1.9" height="16.0" fill="#404040"/>
<rect x="1353.4" y="344.3" width="1.9" height="16.0" fill="#404040"/>
<rect x="1357.5" y="344.3" width="1.9" height="16.0" fill="#404040"/>
<rect x="1361.6" y="344.3" width="1.9" height="16.0" fill="#404040"/>
<rect x="1365.7" y="344.3" width="1.9" height="16.0" fill="#404040"/>
<rect x="1369.8" y="344.3" width="1.9" height="16.0" fill="#404040"/>
<rect x="1373.9" y="344.3" width="1.9" height="16.0" fill="#404040"/>
<rect x="1378.0" y="344.3" width="1.9" height="16.0" fill="#404040"/>
<rect x="1382.1" y="344.3" width="1.9" height="16.0" fill="#404040"/>
<rect x="1386.2" y="344.3" width="1.9" height="16.0" fill="#404040"/>
<rect x="1390.3" y="344.3" width="1.9" height="16.0" fill="#404040"/>
<rect x="1394.4" y="344.3" width="1.9" height="16.0" fill="#404040"/>
<rect x="1398.5" y="344.3" width="1.9" height="16.0" fill="#404040"/>
<polygon points="1405.3,341.6 1420,341.6 1426.7,348 1426.7,363 1405.3,363" fill="#c4c4c4"/><rect x="1408" y="348" width="8" height="4" fill="#e8e8e8"/>
<path d="M1329.6,404.0 Q1367.8,407.0 1406.0,404.0 L1406.0,431.0 Q1367.8,434.0 1329.6,431.0 Z" fill="#d6d6d6"/>
<rect x="1332.9" y="408.6" width="1.9" height="18.4" fill="#404040"/>
<rect x="1337.0" y="408.8" width="1.9" height="18.4" fill="#404040"/>
<rect x="1341.1" y="409.1" width="1.9" height="18.4" fill="#404040"/>
<rect x="1345.2" y="409.3" width="1.9" height="18.4" fill="#404040"/>
<rect x="1349.3" y="409.5" width="1.9" height="18.4" fill="#404040"/>
<rect x="1353.4" y="409.6" width="1.9" height="18.4" fill="#404040"/>
<rect x="1357.5" y="409.7" width="1.9" height="18.4" fill="#404040"/>
<rect x="1361.6" y="409.8" width="1.9" height="18.4" fill="#404040"/>
<rect x="1365.7" y="409.8" width="1.9" height="18.4" fill="#404040"/>
<rect x="1369.8" y="409.8" width="1.9" height="18.4" fill="#404040"/>
<rect x="1373.9" y="409.8" width="1.9" height="18.4" fill="#404040"/>
<rect x="1378.0" y="409.7" width="1.9" height="18.4" fill="#404040"/>
<rect x="1382.1" y="409.6" width="1.9" height="18.4" fill="#404040"/>
<rect x="1386.2" y="409.5" width="1.9" height="18.4" fill="#404040"/>
<rect x="1390.3" y="409.3" width="1.9" height="18.4" fill="#404040"/>
<rect x="1394.4" y="409.1" width="1.9" height="18.4" fill="#404040"/>
<rect x="1398.5" y="408.9" width="1.9" height="18.4" fill="#404040"/>
<polygon points="1405.3,406 1420,405 1426.7,410 1426.7,428 1405.3,430" fill="#c4c4c4"/><rect x="1408" y="414" width="8" height="4" fill="#e8e8e8"/>
</g>
<g id="br">
<rect x="1309" y="504.6" width="39.5" height="235" fill="url(#rpFrame2)"/>
<rect x="1376.8" y="504.6" width="63" height="235" fill="url(#rpPoleB)"/>
<rect x="1376.8" y="504.6" width="63" height="235" fill="#000" filter="url(#brush)" opacity="0.12"/>
<rect x="1309" y="504.6" width="39.5" height="235" fill="#000" filter="url(#brush)" opacity="0.2"/>
<rect x="1335.2" y="563.9" width="76.8" height="141.8" rx="4" fill="#a4a4a4"/>
<rect x="1335.2" y="563.9" width="3" height="141.8" fill="#b0b0b0"/>
<rect x="1363" y="582" width="16" height="40.5" rx="8" fill="#3a3a3a"/><rect x="1366" y="587" width="10" height="30.5" rx="5" fill="#6a6a6a"/>
<rect x="1363" y="647" width="16" height="38.5" rx="8" fill="#3a3a3a"/><rect x="1366" y="652" width="10" height="28.5" rx="5" fill="#6a6a6a"/>
<rect x="1364.0" y="592.5" width="85.3" height="22.5" rx="1.5" fill="url(#bandBR)"/>
<rect x="1367.4" y="595.9" width="1.9" height="15.7" fill="#3c3c3c"/>
<rect x="1371.7" y="595.9" width="1.9" height="15.7" fill="#3c3c3c"/>
<rect x="1376.0" y="595.9" width="1.9" height="15.7" fill="#3c3c3c"/>
<rect x="1380.3" y="595.9" width="1.9" height="15.7" fill="#3c3c3c"/>
<rect x="1384.6" y="595.9" width="1.9" height="15.7" fill="#3c3c3c"/>
<rect x="1388.9" y="595.9" width="1.9" height="15.7" fill="#3c3c3c"/>
<rect x="1393.2" y="595.9" width="1.9" height="15.7" fill="#3c3c3c"/>
<rect x="1397.5" y="595.9" width="1.9" height="15.7" fill="#3c3c3c"/>
<rect x="1401.8" y="595.9" width="1.9" height="15.7" fill="#3c3c3c"/>
<rect x="1406.1" y="595.9" width="1.9" height="15.7" fill="#3c3c3c"/>
<rect x="1410.4" y="595.9" width="1.9" height="15.7" fill="#3c3c3c"/>
<rect x="1414.7" y="595.9" width="1.9" height="15.7" fill="#3c3c3c"/>
<rect x="1419.0" y="595.9" width="1.9" height="15.7" fill="#3c3c3c"/>
<rect x="1423.3" y="595.9" width="1.9" height="15.7" fill="#3c3c3c"/>
<rect x="1427.6" y="595.9" width="1.9" height="15.7" fill="#3c3c3c"/>
<rect x="1431.9" y="595.9" width="1.9" height="15.7" fill="#3c3c3c"/>
<rect x="1436.2" y="595.9" width="1.9" height="15.7" fill="#3c3c3c"/>
<rect x="1440.5" y="595.9" width="1.9" height="15.7" fill="#3c3c3c"/>
<rect x="1444.8" y="595.9" width="1.9" height="15.7" fill="#3c3c3c"/>
<path d="M1364.0,653.0 Q1406.7,650.0 1449.3,653.0 L1449.3,681.0 Q1406.7,678.0 1364.0,681.0 Z" fill="url(#bandBR)"/>
<rect x="1367.4" y="657.0" width="1.9" height="19.6" fill="#3c3c3c"/>
<rect x="1371.7" y="656.7" width="1.9" height="19.6" fill="#3c3c3c"/>
<rect x="1376.0" y="656.5" width="1.9" height="19.6" fill="#3c3c3c"/>
<rect x="1380.3" y="656.3" width="1.9" height="19.6" fill="#3c3c3c"/>
<rect x="1384.6" y="656.1" width="1.9" height="19.6" fill="#3c3c3c"/>
<rect x="1388.9" y="656.0" width="1.9" height="19.6" fill="#3c3c3c"/>
<rect x="1393.2" y="655.8" width="1.9" height="19.6" fill="#3c3c3c"/>
<rect x="1397.5" y="655.8" width="1.9" height="19.6" fill="#3c3c3c"/>
<rect x="1401.8" y="655.7" width="1.9" height="19.6" fill="#3c3c3c"/>
<rect x="1406.1" y="655.7" width="1.9" height="19.6" fill="#3c3c3c"/>
<rect x="1410.4" y="655.7" width="1.9" height="19.6" fill="#3c3c3c"/>
<rect x="1414.7" y="655.8" width="1.9" height="19.6" fill="#3c3c3c"/>
<rect x="1419.0" y="655.8" width="1.9" height="19.6" fill="#3c3c3c"/>
<rect x="1423.3" y="655.9" width="1.9" height="19.6" fill="#3c3c3c"/>
<rect x="1427.6" y="656.1" width="1.9" height="19.6" fill="#3c3c3c"/>
<rect x="1431.9" y="656.2" width="1.9" height="19.6" fill="#3c3c3c"/>
<rect x="1436.2" y="656.4" width="1.9" height="19.6" fill="#3c3c3c"/>
<rect x="1440.5" y="656.6" width="1.9" height="19.6" fill="#3c3c3c"/>
<rect x="1444.8" y="656.9" width="1.9" height="19.6" fill="#3c3c3c"/>
</g>
<g id="logo">
  <polygon points="24.2,8 36.8,8 30.2,26.4 39.6,26.4 37.9,31.6 15.2,31.6" fill="#f39a1f"/>
  <polygon points="41,8 60,8 41.2,46.7 8.9,46.7 12.2,37.1 40.2,37.1 47.6,20.6 37.4,20.6" fill="#f39a1f"/>
  <polygon points="50,18 56,18 45,41 39,41" fill="#efa43a" opacity="0.7"/>
  <line x1="62.4" y1="9.2" x2="44.9" y2="46.7" stroke="#e8b060" stroke-width="2.3"/>
  <line x1="66.3" y1="10.4" x2="49.7" y2="46.7" stroke="#f2dcb8" stroke-width="2.2"/>
</g>
<text x="67" y="36.4" font-size="18.9" fill="#fff" stroke="#fff" stroke-width="0.5" textLength="216" lengthAdjust="spacingAndGlyphs" font-style="italic">LEJIN HOLIDAY LIGHTING</text>
<text x="19.5" y="136.7" font-size="68.5" fill="#fff" stroke="#fff" stroke-width="1.0" textLength="351.5" lengthAdjust="spacingAndGlyphs">Installation</text>
<text x="19.5" y="196.6" font-size="68.5" fill="#fff" stroke="#fff" stroke-width="1.0" textLength="343" lengthAdjust="spacingAndGlyphs">Instruction</text>
<text x="839" y="255" font-size="17" fill="#e4e4e4" stroke="#e4e4e4" stroke-width="0.3" textLength="118" lengthAdjust="spacingAndGlyphs">Size:500x200cm</text>
<text x="444" y="293.5" font-size="28.6" fill="#fff" stroke="#fff" stroke-width="0.55" textLength="118" lengthAdjust="spacingAndGlyphs">steel ring</text>
<text x="515" y="411.5" font-size="28.4" fill="#fff" stroke="#fff" stroke-width="0.55" textLength="65" lengthAdjust="spacingAndGlyphs">stack</text>
<text x="515" y="438.1" font-size="28.4" fill="#fff" stroke="#fff" stroke-width="0.55" textLength="124" lengthAdjust="spacingAndGlyphs">mounting</text>
<text x="1042" y="298.8" font-size="27.6" fill="#fff" stroke="#fff" stroke-width="0.55" textLength="199" lengthAdjust="spacingAndGlyphs">Just tighten the</text>
<text x="1042" y="335.7" font-size="27.6" fill="#fff" stroke="#fff" stroke-width="0.55" textLength="243" lengthAdjust="spacingAndGlyphs">screws on the steel</text>
<text x="1042" y="372.6" font-size="27.6" fill="#fff" stroke="#fff" stroke-width="0.55" textLength="201" lengthAdjust="spacingAndGlyphs">ring to install it.</text>
<text x="1016" y="446.9" font-size="26.5" fill="#fff" stroke="#fff" stroke-width="0.55" textLength="300" lengthAdjust="spacingAndGlyphs">Customized in different</text>
<text x="1016" y="472.5" font-size="26.5" fill="#fff" stroke="#fff" stroke-width="0.55" textLength="128" lengthAdjust="spacingAndGlyphs">steel sizes</text>
<text x="22" y="630.4" font-size="26.8" fill="#fff" stroke="#fff" stroke-width="0.55" textLength="114" lengthAdjust="spacingAndGlyphs">light pole</text>
<text x="223" y="631" font-size="27.9" fill="#fff" stroke="#fff" stroke-width="0.55" textLength="126" lengthAdjust="spacingAndGlyphs">motif light</text>
<text x="223" y="667.5" font-size="27.9" fill="#fff" stroke="#fff" stroke-width="0.55" textLength="200" lengthAdjust="spacingAndGlyphs">aluminum frame</text>
<text x="427" y="622.7" font-size="28.2" fill="#fff" stroke="#fff" stroke-width="0.55" textLength="43" lengthAdjust="spacingAndGlyphs">“U”</text>
<text x="484.5" y="622.7" font-size="28.2" fill="#fff" stroke="#fff" stroke-width="0.55" textLength="59" lengthAdjust="spacingAndGlyphs">steel</text>
<text x="699" y="688.7" font-size="26" fill="#fff" stroke="#fff" stroke-width="0.55" textLength="478" lengthAdjust="spacingAndGlyphs">The "U" steel and motif light are factory</text>
<text x="699" y="713.3" font-size="26" fill="#fff" stroke="#fff" stroke-width="0.55" textLength="468" lengthAdjust="spacingAndGlyphs">welded and do not require installation.</text>
<rect x="9.4" y="691" width="343.3" height="44.5" rx="6" fill="#f47a2e"/>
<text x="21" y="724.4" font-size="37.8" fill="#fff8ee" stroke="#fff8ee" stroke-width="0.9" textLength="311" lengthAdjust="spacingAndGlyphs">Contact Us Details</text>
<g id="arrows">
<polygon points="155.7,421.4 293.6,369.7 295.4,374.6 307.6,361.5 289.8,359.6 291.7,364.5 153.7,416.2" fill="#f50d0d"/>
<polygon points="183.5,458.2 322.0,494.9 320.7,499.9 338.2,496.3 324.8,484.5 323.4,489.5 184.9,452.8" fill="#f50d0d"/>
<polygon points="491.0,467.9 645.5,467.9 645.5,474.4 661.0,464.4 645.5,454.4 645.5,460.9 491.0,460.9" fill="#f50d0d"/>
<polygon points="465.0,582.5 591.0,584.3 590.9,589.8 605.0,582.7 591.1,575.2 591.0,580.7 465.0,578.9" fill="#f50d0d"/>
<polygon points="1041.7,409.6 1274.7,409.6 1274.7,415.9 1288.7,406.3 1274.7,396.7 1274.7,403.1 1041.7,403.1" fill="#f50d0d"/>
<polygon points="130.0,565.0 84.8,590.0 82.0,584.9 71.6,599.2 89.2,598.0 86.4,592.8 131.6,567.8" fill="#f08234"/>
<polygon points="194.4,561.1 221.7,590.9 217.4,594.9 233.7,601.6 228.4,584.7 224.1,588.7 196.8,558.9" fill="#f08234"/>
</g>
</svg>
</body></html>
